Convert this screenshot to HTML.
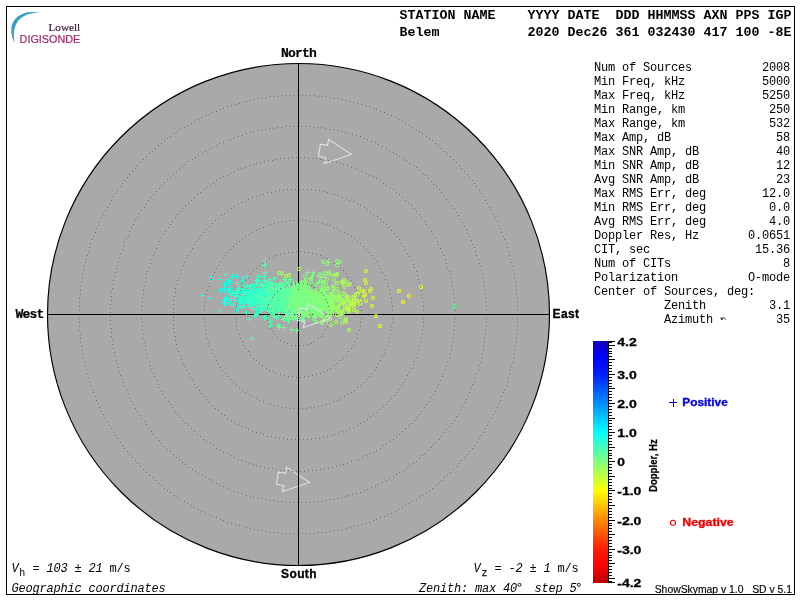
<!DOCTYPE html>
<html><head><meta charset="utf-8"><title>Skymap</title>
<style>
html,body{margin:0;padding:0;background:#fff;}
svg{display:block;will-change:transform}
text{white-space:pre}
.m{font-family:"Liberation Mono",monospace;font-size:12px;letter-spacing:-0.2px;fill:#000}
.mi{font-family:"Liberation Mono",monospace;font-size:12px;letter-spacing:-0.2px;fill:#000;font-style:italic}
.hb{font-family:"Liberation Mono",monospace;font-size:13.3px;font-weight:bold;letter-spacing:0.02px;fill:#000}
.nb{font-family:"Liberation Mono",monospace;font-size:13px;font-weight:bold;letter-spacing:-0.8px;fill:#000;stroke:#000;stroke-width:0.2px}
.sb{font-family:"Liberation Sans",sans-serif;font-size:12px;font-weight:bold;fill:#000;stroke:#000;stroke-width:0.3px;letter-spacing:0.4px}
.bl{font-family:"Liberation Sans",sans-serif;font-size:11.5px;font-weight:bold;fill:#000;stroke:#000;stroke-width:0.3px}
.s{font-family:"Liberation Sans",sans-serif;font-size:10.5px;fill:#000}
</style></head>
<body>
<svg width="800" height="600" viewBox="0 0 800 600">
<defs>
<linearGradient id="jet" x1="0" y1="0" x2="0" y2="1">
<stop offset="0" stop-color="#1800b8"/><stop offset="0.064" stop-color="#0000ff"/><stop offset="0.136" stop-color="#001eff"/>
<stop offset="0.256" stop-color="#008cff"/><stop offset="0.377" stop-color="#00ffff"/><stop offset="0.497" stop-color="#80ff80"/>
<stop offset="0.618" stop-color="#ffff00"/><stop offset="0.738" stop-color="#ff8c00"/><stop offset="0.858" stop-color="#ff1e00"/>
<stop offset="0.93" stop-color="#ff0000"/><stop offset="1" stop-color="#b80000"/>
</linearGradient>
</defs>
<rect x="0" y="0" width="800" height="600" fill="#fff"/>
<rect x="6.5" y="6.5" width="788" height="588" fill="none" stroke="#000" stroke-width="1" shape-rendering="crispEdges"/>

<!-- logo -->
<path d="M38.8 13.1 C26 9 12 16.5 11.3 28.5 C11 34.5 12.5 39.5 14.8 42.8 C13.6 37.5 13.2 31.5 15.5 25.5 C19 17 28 12 38.8 13.1Z" fill="#3a9bc8"/>
<text x="48.5" y="30.6" style="font-family:'Liberation Serif',serif;font-size:11.2px;fill:#3c1a30;stroke:#3c1a30;stroke-width:0.2px">Lowell</text>
<text x="19.6" y="43" style="font-family:'Liberation Sans',sans-serif;font-size:10.8px;fill:#9a2a62;stroke:#9a2a62;stroke-width:0.2px">DIGISONDE</text>

<!-- header -->
<text x="399.5" y="19" class="hb">STATION NAME    YYYY DATE  DDD HHMMSS AXN PPS IGP</text>
<text x="399.5" y="36" class="hb">Belem           2020 Dec26 361 032430 417 100 -8E</text>

<!-- polar plot -->
<circle cx="298.5" cy="314.5" r="251.0" fill="#a9a9a9" stroke="#000" stroke-width="1.15"/>
<polygon points="351.5,154.4 328.6,139.4 327.5,145.4 320.4,144.2 318.5,156.2 325.6,157.8 324.5,163.4" fill="none" stroke="#e4e4e4" stroke-width="1.1" stroke-linejoin="miter"/>
<polygon points="309.5,482.4 286.6,467.4 285.5,473.4 278.4,472.2 276.5,484.2 283.6,485.8 282.5,491.4" fill="none" stroke="#e4e4e4" stroke-width="1.1" stroke-linejoin="miter"/>
<path d="M298.5 63V566M47 314.5H550" stroke="#000" stroke-width="1" fill="none" shape-rendering="crispEdges"/>
<path d="M310.5 301.0a1.5 1.5 0 1 0 3 0a1.5 1.5 0 1 0-3 0M318.5 307.0a1.5 1.5 0 1 0 3 0a1.5 1.5 0 1 0-3 0M300.5 300.0a1.5 1.5 0 1 0 3 0a1.5 1.5 0 1 0-3 0M301.5 301.0a1.5 1.5 0 1 0 3 0a1.5 1.5 0 1 0-3 0M315.5 305.0a1.5 1.5 0 1 0 3 0a1.5 1.5 0 1 0-3 0M315.5 303.0a1.5 1.5 0 1 0 3 0a1.5 1.5 0 1 0-3 0M314.5 294.0a1.5 1.5 0 1 0 3 0a1.5 1.5 0 1 0-3 0M327.5 294.0a1.5 1.5 0 1 0 3 0a1.5 1.5 0 1 0-3 0M309.5 299.0a1.5 1.5 0 1 0 3 0a1.5 1.5 0 1 0-3 0M326.5 298.0a1.5 1.5 0 1 0 3 0a1.5 1.5 0 1 0-3 0M308.5 291.0a1.5 1.5 0 1 0 3 0a1.5 1.5 0 1 0-3 0M326.5 305.0a1.5 1.5 0 1 0 3 0a1.5 1.5 0 1 0-3 0M322.5 307.0a1.5 1.5 0 1 0 3 0a1.5 1.5 0 1 0-3 0M318.5 274.0a1.5 1.5 0 1 0 3 0a1.5 1.5 0 1 0-3 0M320.5 305.0a1.5 1.5 0 1 0 3 0a1.5 1.5 0 1 0-3 0M319.5 316.0a1.5 1.5 0 1 0 3 0a1.5 1.5 0 1 0-3 0M326.5 301.0a1.5 1.5 0 1 0 3 0a1.5 1.5 0 1 0-3 0M317.5 276.0a1.5 1.5 0 1 0 3 0a1.5 1.5 0 1 0-3 0M317.5 308.0a1.5 1.5 0 1 0 3 0a1.5 1.5 0 1 0-3 0M331.5 303.0a1.5 1.5 0 1 0 3 0a1.5 1.5 0 1 0-3 0M326.5 297.0a1.5 1.5 0 1 0 3 0a1.5 1.5 0 1 0-3 0M315.5 301.0a1.5 1.5 0 1 0 3 0a1.5 1.5 0 1 0-3 0M304.5 298.0a1.5 1.5 0 1 0 3 0a1.5 1.5 0 1 0-3 0M319.5 314.0a1.5 1.5 0 1 0 3 0a1.5 1.5 0 1 0-3 0M325.5 300.0a1.5 1.5 0 1 0 3 0a1.5 1.5 0 1 0-3 0M303.5 298.0a1.5 1.5 0 1 0 3 0a1.5 1.5 0 1 0-3 0M319.5 292.0a1.5 1.5 0 1 0 3 0a1.5 1.5 0 1 0-3 0M322.5 282.0a1.5 1.5 0 1 0 3 0a1.5 1.5 0 1 0-3 0M304.5 295.0a1.5 1.5 0 1 0 3 0a1.5 1.5 0 1 0-3 0M322.5 296.0a1.5 1.5 0 1 0 3 0a1.5 1.5 0 1 0-3 0M319.5 309.0a1.5 1.5 0 1 0 3 0a1.5 1.5 0 1 0-3 0M321.5 302.0a1.5 1.5 0 1 0 3 0a1.5 1.5 0 1 0-3 0M319.5 291.0a1.5 1.5 0 1 0 3 0a1.5 1.5 0 1 0-3 0M321.5 309.0a1.5 1.5 0 1 0 3 0a1.5 1.5 0 1 0-3 0M305.5 291.0a1.5 1.5 0 1 0 3 0a1.5 1.5 0 1 0-3 0M298.5 294.0a1.5 1.5 0 1 0 3 0a1.5 1.5 0 1 0-3 0M311.5 297.0a1.5 1.5 0 1 0 3 0a1.5 1.5 0 1 0-3 0M317.5 309.0a1.5 1.5 0 1 0 3 0a1.5 1.5 0 1 0-3 0M318.5 303.0a1.5 1.5 0 1 0 3 0a1.5 1.5 0 1 0-3 0M322.5 302.0a1.5 1.5 0 1 0 3 0a1.5 1.5 0 1 0-3 0M310.5 308.0a1.5 1.5 0 1 0 3 0a1.5 1.5 0 1 0-3 0M313.5 301.0a1.5 1.5 0 1 0 3 0a1.5 1.5 0 1 0-3 0M303.5 288.0a1.5 1.5 0 1 0 3 0a1.5 1.5 0 1 0-3 0M318.5 307.0a1.5 1.5 0 1 0 3 0a1.5 1.5 0 1 0-3 0M320.5 290.0a1.5 1.5 0 1 0 3 0a1.5 1.5 0 1 0-3 0M327.5 294.0a1.5 1.5 0 1 0 3 0a1.5 1.5 0 1 0-3 0M329.5 297.0a1.5 1.5 0 1 0 3 0a1.5 1.5 0 1 0-3 0M327.5 306.0a1.5 1.5 0 1 0 3 0a1.5 1.5 0 1 0-3 0M311.5 299.0a1.5 1.5 0 1 0 3 0a1.5 1.5 0 1 0-3 0M323.5 299.0a1.5 1.5 0 1 0 3 0a1.5 1.5 0 1 0-3 0M329.5 294.0a1.5 1.5 0 1 0 3 0a1.5 1.5 0 1 0-3 0M330.5 299.0a1.5 1.5 0 1 0 3 0a1.5 1.5 0 1 0-3 0M315.5 312.0a1.5 1.5 0 1 0 3 0a1.5 1.5 0 1 0-3 0M311.5 301.0a1.5 1.5 0 1 0 3 0a1.5 1.5 0 1 0-3 0M308.5 295.0a1.5 1.5 0 1 0 3 0a1.5 1.5 0 1 0-3 0M317.5 292.0a1.5 1.5 0 1 0 3 0a1.5 1.5 0 1 0-3 0M321.5 300.0a1.5 1.5 0 1 0 3 0a1.5 1.5 0 1 0-3 0M319.5 297.0a1.5 1.5 0 1 0 3 0a1.5 1.5 0 1 0-3 0M319.5 312.0a1.5 1.5 0 1 0 3 0a1.5 1.5 0 1 0-3 0M314.5 300.0a1.5 1.5 0 1 0 3 0a1.5 1.5 0 1 0-3 0M320.5 323.0a1.5 1.5 0 1 0 3 0a1.5 1.5 0 1 0-3 0M308.5 298.0a1.5 1.5 0 1 0 3 0a1.5 1.5 0 1 0-3 0M318.5 281.0a1.5 1.5 0 1 0 3 0a1.5 1.5 0 1 0-3 0M313.5 308.0a1.5 1.5 0 1 0 3 0a1.5 1.5 0 1 0-3 0M313.5 308.0a1.5 1.5 0 1 0 3 0a1.5 1.5 0 1 0-3 0M321.5 302.0a1.5 1.5 0 1 0 3 0a1.5 1.5 0 1 0-3 0M305.5 305.0a1.5 1.5 0 1 0 3 0a1.5 1.5 0 1 0-3 0M331.5 305.0a1.5 1.5 0 1 0 3 0a1.5 1.5 0 1 0-3 0M321.5 289.0a1.5 1.5 0 1 0 3 0a1.5 1.5 0 1 0-3 0M305.5 303.0a1.5 1.5 0 1 0 3 0a1.5 1.5 0 1 0-3 0M316.5 315.0a1.5 1.5 0 1 0 3 0a1.5 1.5 0 1 0-3 0M315.5 309.0a1.5 1.5 0 1 0 3 0a1.5 1.5 0 1 0-3 0M320.5 276.0a1.5 1.5 0 1 0 3 0a1.5 1.5 0 1 0-3 0M312.5 319.0a1.5 1.5 0 1 0 3 0a1.5 1.5 0 1 0-3 0" stroke="#86ff79" stroke-width="1.1" fill="none"/>
<path d="M283 298.5h5M285.5 296v5M293 292.5h5M295.5 290v5M288 292.5h5M290.5 290v5M285 306.5h5M287.5 304v5M285 298.5h5M287.5 296v5M289 296.5h5M291.5 294v5M292 299.5h5M294.5 297v5M283 290.5h5M285.5 288v5M288 298.5h5M290.5 296v5M287 299.5h5M289.5 297v5M286 294.5h5M288.5 292v5M285 285.5h5M287.5 283v5M287 308.5h5M289.5 306v5M289 288.5h5M291.5 286v5M283 291.5h5M285.5 289v5M283 298.5h5M285.5 296v5M287 316.5h5M289.5 314v5M287 308.5h5M289.5 306v5M289 296.5h5M291.5 294v5M289 316.5h5M291.5 314v5M295 297.5h5M297.5 295v5M280 299.5h5M282.5 297v5M288 298.5h5M290.5 296v5M286 302.5h5M288.5 300v5M288 294.5h5M290.5 292v5M292 304.5h5M294.5 302v5M290 310.5h5M292.5 308v5M289 312.5h5M291.5 310v5M290 296.5h5M292.5 294v5M282 286.5h5M284.5 284v5M293 301.5h5M295.5 299v5M284 297.5h5M286.5 295v5M286 305.5h5M288.5 303v5M282 297.5h5M284.5 295v5M274 305.5h5M276.5 303v5M292 317.5h5M294.5 315v5M286 300.5h5M288.5 298v5M293 291.5h5M295.5 289v5M283 295.5h5M285.5 293v5M293 294.5h5M295.5 292v5M283 305.5h5M285.5 303v5M287 289.5h5M289.5 287v5M282 295.5h5M284.5 293v5M296 300.5h5M298.5 298v5M290 291.5h5M292.5 289v5M288 299.5h5M290.5 297v5M286 304.5h5M288.5 302v5M290 303.5h5M292.5 301v5M288 290.5h5M290.5 288v5M300 319.5h5M302.5 317v5M288 301.5h5M290.5 299v5M285 297.5h5M287.5 295v5M274 295.5h5M276.5 293v5M288 307.5h5M290.5 305v5M275 294.5h5M277.5 292v5M284 303.5h5M286.5 301v5M285 303.5h5M287.5 301v5M290 298.5h5M292.5 296v5M283 310.5h5M285.5 308v5M291 311.5h5M293.5 309v5M281 302.5h5M283.5 300v5M281 296.5h5M283.5 294v5M289 305.5h5M291.5 303v5M283 296.5h5M285.5 294v5M294 304.5h5M296.5 302v5M276 306.5h5M278.5 304v5M291 293.5h5M293.5 291v5M285 301.5h5M287.5 299v5M283 311.5h5M285.5 309v5M290 309.5h5M292.5 307v5M284 299.5h5M286.5 297v5M280 294.5h5M282.5 292v5M292 296.5h5M294.5 294v5M290 298.5h5M292.5 296v5M295 310.5h5M297.5 308v5M286 321.5h5M288.5 319v5" stroke="#67ff98" stroke-width="1" fill="none" shape-rendering="crispEdges"/>
<path d="M284 309.5h5M286.5 307v5M283 303.5h5M285.5 301v5M285 314.5h5M287.5 312v5M280 301.5h5M282.5 299v5M283 294.5h5M285.5 292v5M284 291.5h5M286.5 289v5M278 285.5h5M280.5 283v5M283 294.5h5M285.5 292v5M288 313.5h5M290.5 311v5M280 295.5h5M282.5 293v5M276 300.5h5M278.5 298v5M289 310.5h5M291.5 308v5M287 301.5h5M289.5 299v5M284 319.5h5M286.5 317v5M283 292.5h5M285.5 290v5M282 301.5h5M284.5 299v5M273 289.5h5M275.5 287v5M281 319.5h5M283.5 317v5M285 292.5h5M287.5 290v5M285 288.5h5M287.5 286v5M284 302.5h5M286.5 300v5M280 300.5h5M282.5 298v5M273 299.5h5M275.5 297v5M284 305.5h5M286.5 303v5M284 298.5h5M286.5 296v5M284 301.5h5M286.5 299v5M282 294.5h5M284.5 292v5M270 304.5h5M272.5 302v5M278 306.5h5M280.5 304v5M286 282.5h5M288.5 280v5M278 309.5h5M280.5 307v5M274 303.5h5M276.5 301v5M269 303.5h5M271.5 301v5M271 306.5h5M273.5 304v5M277 311.5h5M279.5 309v5M288 301.5h5M290.5 299v5M282 306.5h5M284.5 304v5M283 305.5h5M285.5 303v5M297 302.5h5M299.5 300v5M279 294.5h5M281.5 292v5M276 294.5h5M278.5 292v5M282 299.5h5M284.5 297v5M276 303.5h5M278.5 301v5M291 319.5h5M293.5 317v5M286 305.5h5M288.5 303v5M281 299.5h5M283.5 297v5M278 284.5h5M280.5 282v5M285 302.5h5M287.5 300v5M263 303.5h5M265.5 301v5M286 303.5h5M288.5 301v5M282 301.5h5M284.5 299v5M283 307.5h5M285.5 305v5M276 287.5h5M278.5 285v5M274 295.5h5M276.5 293v5M283 307.5h5M285.5 305v5M285 295.5h5M287.5 293v5M278 295.5h5M280.5 293v5M277 293.5h5M279.5 291v5M275 310.5h5M277.5 308v5M275 304.5h5M277.5 302v5M272 303.5h5M274.5 301v5M282 294.5h5M284.5 292v5M283 299.5h5M285.5 297v5M285 305.5h5M287.5 303v5M273 304.5h5M275.5 302v5M275 288.5h5M277.5 286v5M279 299.5h5M281.5 297v5M290 295.5h5M292.5 293v5M281 302.5h5M283.5 300v5M279 295.5h5M281.5 293v5M279 294.5h5M281.5 292v5M281 297.5h5M283.5 295v5M279 299.5h5M281.5 297v5M281 297.5h5M283.5 295v5M276 325.5h5M278.5 323v5" stroke="#5bffa4" stroke-width="1" fill="none" shape-rendering="crispEdges"/>
<path d="M280 295.5h5M282.5 293v5M272 293.5h5M274.5 291v5M262 303.5h5M264.5 301v5M262 286.5h5M264.5 284v5M262 294.5h5M264.5 292v5M268 290.5h5M270.5 288v5M277 294.5h5M279.5 292v5M272 303.5h5M274.5 301v5M267 294.5h5M269.5 292v5M267 301.5h5M269.5 299v5M276 303.5h5M278.5 301v5M246 295.5h5M248.5 293v5M268 296.5h5M270.5 294v5M267 310.5h5M269.5 308v5M250 300.5h5M252.5 298v5M242 287.5h5M244.5 285v5M271 307.5h5M273.5 305v5M269 299.5h5M271.5 297v5M271 301.5h5M273.5 299v5M268 290.5h5M270.5 288v5M265 301.5h5M267.5 299v5M246 302.5h5M248.5 300v5M255 305.5h5M257.5 303v5M260 298.5h5M262.5 296v5M270 306.5h5M272.5 304v5M274 294.5h5M276.5 292v5M274 298.5h5M276.5 296v5M273 284.5h5M275.5 282v5M279 307.5h5M281.5 305v5M268 283.5h5M270.5 281v5M266 298.5h5M268.5 296v5M262 276.5h5M264.5 274v5M270 296.5h5M272.5 294v5M265 302.5h5M267.5 300v5M268 311.5h5M270.5 309v5M256 299.5h5M258.5 297v5M270 309.5h5M272.5 307v5M273 299.5h5M275.5 297v5M250 304.5h5M252.5 302v5M264 302.5h5M266.5 300v5M247 306.5h5M249.5 304v5M249 296.5h5M251.5 294v5M268 303.5h5M270.5 301v5M261 302.5h5M263.5 300v5M266 284.5h5M268.5 282v5M260 306.5h5M262.5 304v5M266 289.5h5M268.5 287v5M278 289.5h5M280.5 287v5M263 307.5h5M265.5 305v5M269 286.5h5M271.5 284v5M266 302.5h5M268.5 300v5M273 293.5h5M275.5 291v5M278 301.5h5M280.5 299v5M260 286.5h5M262.5 284v5M268 298.5h5M270.5 296v5M274 305.5h5M276.5 303v5M273 295.5h5M275.5 293v5M276 303.5h5M278.5 301v5M274 302.5h5M276.5 300v5M272 305.5h5M274.5 303v5M248 297.5h5M250.5 295v5M273 299.5h5M275.5 297v5M276 300.5h5M278.5 298v5M274 292.5h5M276.5 290v5M257 303.5h5M259.5 301v5M265 298.5h5M267.5 296v5M263 300.5h5M265.5 298v5M272 278.5h5M274.5 276v5M269 302.5h5M271.5 300v5M268 302.5h5M270.5 300v5M263 272.5h5M265.5 270v5" stroke="#49ffb6" stroke-width="1" fill="none" shape-rendering="crispEdges"/>
<path d="M240 280.5h5M242.5 278v5M222 303.5h5M224.5 301v5M222 300.5h5M224.5 298v5M229 299.5h5M231.5 297v5M227 288.5h5M229.5 286v5M228 282.5h5M230.5 280v5M224 299.5h5M226.5 297v5M241 302.5h5M243.5 300v5M226 280.5h5M228.5 278v5M223 304.5h5M225.5 302v5M230 276.5h5M232.5 274v5M234 276.5h5M236.5 274v5" stroke="#1effe1" stroke-width="1" fill="none" shape-rendering="crispEdges"/>
<path d="M258 302.5h5M260.5 300v5M255 300.5h5M257.5 298v5M266 291.5h5M268.5 289v5M262 300.5h5M264.5 298v5M271 296.5h5M273.5 294v5M255 290.5h5M257.5 288v5M275 304.5h5M277.5 302v5M270 300.5h5M272.5 298v5M267 290.5h5M269.5 288v5M262 285.5h5M264.5 283v5M264 317.5h5M266.5 315v5M270 296.5h5M272.5 294v5M260 309.5h5M262.5 307v5M264 303.5h5M266.5 301v5M259 306.5h5M261.5 304v5M249 293.5h5M251.5 291v5M263 303.5h5M265.5 301v5M273 297.5h5M275.5 295v5M260 300.5h5M262.5 298v5M266 293.5h5M268.5 291v5M267 307.5h5M269.5 305v5M262 280.5h5M264.5 278v5M253 299.5h5M255.5 297v5M268 301.5h5M270.5 299v5M259 283.5h5M261.5 281v5M255 303.5h5M257.5 301v5M260 293.5h5M262.5 291v5M261 285.5h5M263.5 283v5M266 303.5h5M268.5 301v5M257 294.5h5M259.5 292v5M269 298.5h5M271.5 296v5M263 306.5h5M265.5 304v5M254 284.5h5M256.5 282v5M252 288.5h5M254.5 286v5M272 293.5h5M274.5 291v5M262 298.5h5M264.5 296v5M249 292.5h5M251.5 290v5M265 307.5h5M267.5 305v5M260 300.5h5M262.5 298v5M262 297.5h5M264.5 295v5M259 303.5h5M261.5 301v5M259 307.5h5M261.5 305v5M252 300.5h5M254.5 298v5M273 293.5h5M275.5 291v5M271 300.5h5M273.5 298v5M269 304.5h5M271.5 302v5M275 302.5h5M277.5 300v5M255 302.5h5M257.5 300v5M263 290.5h5M265.5 288v5M271 316.5h5M273.5 314v5M271 301.5h5M273.5 299v5M245 292.5h5M247.5 290v5M271 299.5h5M273.5 297v5M260 294.5h5M262.5 292v5M260 292.5h5M262.5 290v5M257 298.5h5M259.5 296v5M252 290.5h5M254.5 288v5M272 300.5h5M274.5 298v5M257 285.5h5M259.5 283v5M268 290.5h5M270.5 288v5M255 299.5h5M257.5 297v5M267 279.5h5M269.5 277v5M261 298.5h5M263.5 296v5M258 296.5h5M260.5 294v5M268 294.5h5M270.5 292v5M269 307.5h5M271.5 305v5M263 260.5h5M265.5 258v5" stroke="#43ffbc" stroke-width="1" fill="none" shape-rendering="crispEdges"/>
<path d="M254 305.5h5M256.5 303v5M267 289.5h5M269.5 287v5M260 295.5h5M262.5 293v5M246 293.5h5M248.5 291v5M254 293.5h5M256.5 291v5M256 276.5h5M258.5 274v5M253 297.5h5M255.5 295v5M251 300.5h5M253.5 298v5M254 280.5h5M256.5 278v5M254 298.5h5M256.5 296v5M244 298.5h5M246.5 296v5M267 295.5h5M269.5 293v5M263 295.5h5M265.5 293v5M240 299.5h5M242.5 297v5M255 281.5h5M257.5 279v5M261 288.5h5M263.5 286v5M258 296.5h5M260.5 294v5M252 298.5h5M254.5 296v5M267 302.5h5M269.5 300v5M255 300.5h5M257.5 298v5M263 297.5h5M265.5 295v5M244 312.5h5M246.5 310v5M257 294.5h5M259.5 292v5M252 315.5h5M254.5 313v5M263 308.5h5M265.5 306v5M253 294.5h5M255.5 292v5M254 295.5h5M256.5 293v5M247 303.5h5M249.5 301v5M255 295.5h5M257.5 293v5M248 302.5h5M250.5 300v5M272 296.5h5M274.5 294v5M256 309.5h5M258.5 307v5M266 299.5h5M268.5 297v5M248 302.5h5M250.5 300v5M245 299.5h5M247.5 297v5M262 291.5h5M264.5 289v5M262 317.5h5M264.5 315v5M260 297.5h5M262.5 295v5M256 299.5h5M258.5 297v5M258 300.5h5M260.5 298v5M263 305.5h5M265.5 303v5M262 298.5h5M264.5 296v5M256 298.5h5M258.5 296v5M258 308.5h5M260.5 306v5M256 280.5h5M258.5 278v5M255 290.5h5M257.5 288v5M268 288.5h5M270.5 286v5M256 289.5h5M258.5 287v5M251 308.5h5M253.5 306v5M252 292.5h5M254.5 290v5M260 297.5h5M262.5 295v5M255 291.5h5M257.5 289v5M262 297.5h5M264.5 295v5M259 283.5h5M261.5 281v5M252 291.5h5M254.5 289v5M249 338.5h5M251.5 336v5" stroke="#3dffc2" stroke-width="1" fill="none" shape-rendering="crispEdges"/>
<path d="M363.5 295.0a1.5 1.5 0 1 0 3 0a1.5 1.5 0 1 0-3 0M362.5 291.0a1.5 1.5 0 1 0 3 0a1.5 1.5 0 1 0-3 0M369.5 289.0a1.5 1.5 0 1 0 3 0a1.5 1.5 0 1 0-3 0M371.5 298.0a1.5 1.5 0 1 0 3 0a1.5 1.5 0 1 0-3 0M370.5 306.0a1.5 1.5 0 1 0 3 0a1.5 1.5 0 1 0-3 0" stroke="#e1ff1e" stroke-width="1.1" fill="none"/>
<path d="M358.5 301.0a1.5 1.5 0 1 0 3 0a1.5 1.5 0 1 0-3 0M364.5 301.0a1.5 1.5 0 1 0 3 0a1.5 1.5 0 1 0-3 0M364.5 271.0a1.5 1.5 0 1 0 3 0a1.5 1.5 0 1 0-3 0M363.5 280.0a1.5 1.5 0 1 0 3 0a1.5 1.5 0 1 0-3 0M364.5 283.0a1.5 1.5 0 1 0 3 0a1.5 1.5 0 1 0-3 0M362.5 296.0a1.5 1.5 0 1 0 3 0a1.5 1.5 0 1 0-3 0" stroke="#d5ff2a" stroke-width="1.1" fill="none"/>
<path d="M277 308.5h5M279.5 306v5M281 289.5h5M283.5 287v5M280 297.5h5M282.5 295v5M282 299.5h5M284.5 297v5M283 305.5h5M285.5 303v5M285 295.5h5M287.5 293v5M284 297.5h5M286.5 295v5M276 295.5h5M278.5 293v5M283 293.5h5M285.5 291v5M285 299.5h5M287.5 297v5M296 299.5h5M298.5 297v5M276 305.5h5M278.5 303v5M280 303.5h5M282.5 301v5M280 289.5h5M282.5 287v5M284 302.5h5M286.5 300v5M285 297.5h5M287.5 295v5M289 296.5h5M291.5 294v5M292 301.5h5M294.5 299v5M280 290.5h5M282.5 288v5M284 294.5h5M286.5 292v5M279 293.5h5M281.5 291v5M276 285.5h5M278.5 283v5M286 304.5h5M288.5 302v5M277 300.5h5M279.5 298v5M298 301.5h5M300.5 299v5M278 303.5h5M280.5 301v5M287 301.5h5M289.5 299v5M288 299.5h5M290.5 297v5M286 302.5h5M288.5 300v5M278 304.5h5M280.5 302v5M296 302.5h5M298.5 300v5M274 308.5h5M276.5 306v5M285 305.5h5M287.5 303v5M285 300.5h5M287.5 298v5M288 305.5h5M290.5 303v5M281 304.5h5M283.5 302v5M284 294.5h5M286.5 292v5M283 281.5h5M285.5 279v5M279 291.5h5M281.5 289v5M286 297.5h5M288.5 295v5M284 298.5h5M286.5 296v5M279 283.5h5M281.5 281v5M277 297.5h5M279.5 295v5M290 288.5h5M292.5 286v5M279 295.5h5M281.5 293v5M289 294.5h5M291.5 292v5M280 303.5h5M282.5 301v5M282 299.5h5M284.5 297v5M293 294.5h5M295.5 292v5M280 299.5h5M282.5 297v5M290 306.5h5M292.5 304v5M287 295.5h5M289.5 293v5M284 307.5h5M286.5 305v5M282 286.5h5M284.5 284v5M285 289.5h5M287.5 287v5M285 307.5h5M287.5 305v5M287 301.5h5M289.5 299v5M285 293.5h5M287.5 291v5M277 300.5h5M279.5 298v5M293 310.5h5M295.5 308v5M278 303.5h5M280.5 301v5M290 312.5h5M292.5 310v5M282 307.5h5M284.5 305v5M291 307.5h5M293.5 305v5M286 296.5h5M288.5 294v5M282 318.5h5M284.5 316v5M284 294.5h5M286.5 292v5M287 286.5h5M289.5 284v5M275 302.5h5M277.5 300v5M276 294.5h5M278.5 292v5M289 295.5h5M291.5 293v5M286 301.5h5M288.5 299v5M452 306.5h5M454.5 304v5M281 327.5h5M283.5 325v5" stroke="#61ff9e" stroke-width="1" fill="none" shape-rendering="crispEdges"/>
<path d="M299 291.5h5M301.5 289v5M293 295.5h5M295.5 293v5M288 299.5h5M290.5 297v5M285 302.5h5M287.5 300v5M294 298.5h5M296.5 296v5M296 299.5h5M298.5 297v5M290 288.5h5M292.5 286v5M290 301.5h5M292.5 299v5M293 303.5h5M295.5 301v5M285 316.5h5M287.5 314v5M294 290.5h5M296.5 288v5M296 298.5h5M298.5 296v5M291 294.5h5M293.5 292v5M287 294.5h5M289.5 292v5M282 279.5h5M284.5 277v5M288 300.5h5M290.5 298v5M292 302.5h5M294.5 300v5M284 310.5h5M286.5 308v5M287 301.5h5M289.5 299v5M300 305.5h5M302.5 303v5M293 311.5h5M295.5 309v5M291 301.5h5M293.5 299v5M277 294.5h5M279.5 292v5M286 293.5h5M288.5 291v5M286 302.5h5M288.5 300v5M283 305.5h5M285.5 303v5M292 293.5h5M294.5 291v5M287 307.5h5M289.5 305v5M294 297.5h5M296.5 295v5M317 295.5h5M319.5 293v5M292 305.5h5M294.5 303v5M284 312.5h5M286.5 310v5M298 300.5h5M300.5 298v5M284 290.5h5M286.5 288v5M290 301.5h5M292.5 299v5M301 295.5h5M303.5 293v5M288 279.5h5M290.5 277v5M301 300.5h5M303.5 298v5M293 292.5h5M295.5 290v5M286 300.5h5M288.5 298v5M293 291.5h5M295.5 289v5M290 302.5h5M292.5 300v5M291 308.5h5M293.5 306v5M284 305.5h5M286.5 303v5M288 303.5h5M290.5 301v5M296 304.5h5M298.5 302v5M288 307.5h5M290.5 305v5M294 298.5h5M296.5 296v5M293 300.5h5M295.5 298v5M284 297.5h5M286.5 295v5M289 296.5h5M291.5 294v5M284 296.5h5M286.5 294v5M283 308.5h5M285.5 306v5M284 303.5h5M286.5 301v5M288 304.5h5M290.5 302v5M287 298.5h5M289.5 296v5M288 297.5h5M290.5 295v5M293 293.5h5M295.5 291v5M294 300.5h5M296.5 298v5M284 291.5h5M286.5 289v5M292 286.5h5M294.5 284v5M286 319.5h5M288.5 317v5M288 298.5h5M290.5 296v5M294 296.5h5M296.5 294v5M282 285.5h5M284.5 283v5M288 292.5h5M290.5 290v5M285 289.5h5M287.5 287v5M291 300.5h5M293.5 298v5M294 283.5h5M296.5 281v5M277 327.5h5M279.5 325v5M289 329.5h5M291.5 327v5" stroke="#6dff92" stroke-width="1" fill="none" shape-rendering="crispEdges"/>
<path d="M356.5 293.0a1.5 1.5 0 1 0 3 0a1.5 1.5 0 1 0-3 0M360.5 291.0a1.5 1.5 0 1 0 3 0a1.5 1.5 0 1 0-3 0" stroke="#ceff31" stroke-width="1.1" fill="none"/>
<path d="M251 299.5h5M253.5 297v5M223 274.5h5M225.5 272v5M244 297.5h5M246.5 295v5M233 301.5h5M235.5 299v5M230 292.5h5M232.5 290v5M236 288.5h5M238.5 286v5M244 294.5h5M246.5 292v5M241 303.5h5M243.5 301v5M235 291.5h5M237.5 289v5M228 303.5h5M230.5 301v5M250 304.5h5M252.5 302v5M236 306.5h5M238.5 304v5M235 290.5h5M237.5 288v5M234 310.5h5M236.5 308v5M245 276.5h5M247.5 274v5" stroke="#2affd5" stroke-width="1" fill="none" shape-rendering="crispEdges"/>
<path d="M301 314.5h5M303.5 312v5M305 303.5h5M307.5 301v5M299 283.5h5M301.5 281v5M297 303.5h5M299.5 301v5M310 275.5h5M312.5 273v5M298 287.5h5M300.5 285v5M309 309.5h5M311.5 307v5M293 305.5h5M295.5 303v5M306 316.5h5M308.5 314v5M294 288.5h5M296.5 286v5M308 301.5h5M310.5 299v5M320 289.5h5M322.5 287v5M310 303.5h5M312.5 301v5M310 307.5h5M312.5 305v5M313 300.5h5M315.5 298v5M309 293.5h5M311.5 291v5M300 303.5h5M302.5 301v5M304 301.5h5M306.5 299v5M300 296.5h5M302.5 294v5M295 292.5h5M297.5 290v5M297 285.5h5M299.5 283v5M311 299.5h5M313.5 297v5M300 306.5h5M302.5 304v5M315 307.5h5M317.5 305v5M325 321.5h5M327.5 319v5M305 306.5h5M307.5 304v5M309 302.5h5M311.5 300v5M307 297.5h5M309.5 295v5M303 301.5h5M305.5 299v5M296 296.5h5M298.5 294v5M316 301.5h5M318.5 299v5M299 308.5h5M301.5 306v5M310 307.5h5M312.5 305v5M299 304.5h5M301.5 302v5M320 304.5h5M322.5 302v5M297 294.5h5M299.5 292v5M301 305.5h5M303.5 303v5M309 301.5h5M311.5 299v5M316 296.5h5M318.5 294v5M299 303.5h5M301.5 301v5M294 296.5h5M296.5 294v5M315 299.5h5M317.5 297v5M303 286.5h5M305.5 284v5M304 297.5h5M306.5 295v5M297 306.5h5M299.5 304v5M312 299.5h5M314.5 297v5M301 306.5h5M303.5 304v5M311 310.5h5M313.5 308v5M305 293.5h5M307.5 291v5M296 299.5h5M298.5 297v5M316 296.5h5M318.5 294v5M307 307.5h5M309.5 305v5M293 288.5h5M295.5 286v5M298 308.5h5M300.5 306v5M319 300.5h5M321.5 298v5M323 277.5h5M325.5 275v5M297 284.5h5M299.5 282v5M298 305.5h5M300.5 303v5M307 298.5h5M309.5 296v5M293 293.5h5M295.5 291v5M294 308.5h5M296.5 306v5M287 302.5h5M289.5 300v5M298 302.5h5M300.5 300v5M311 299.5h5M313.5 297v5M312 299.5h5M314.5 297v5M303 281.5h5M305.5 279v5M312 316.5h5M314.5 314v5M302 314.5h5M304.5 312v5M298 286.5h5M300.5 284v5M301 320.5h5M303.5 318v5M303 292.5h5M305.5 290v5M305 313.5h5M307.5 311v5M301 295.5h5M303.5 293v5M303 284.5h5M305.5 282v5M308 304.5h5M310.5 302v5M308 278.5h5M310.5 276v5M316 302.5h5M318.5 300v5M304 298.5h5M306.5 296v5M305 299.5h5M307.5 297v5M301 299.5h5M303.5 297v5M307 300.5h5M309.5 298v5M316 282.5h5M318.5 280v5M294 307.5h5M296.5 305v5M293 299.5h5M295.5 297v5M300 287.5h5M302.5 285v5M302 303.5h5M304.5 301v5M296 300.5h5M298.5 298v5M306 285.5h5M308.5 283v5M313 315.5h5M315.5 313v5M323 310.5h5M325.5 308v5M305 296.5h5M307.5 294v5M306 303.5h5M308.5 301v5M326 309.5h5M328.5 307v5M303 290.5h5M305.5 288v5M301 296.5h5M303.5 294v5M313 304.5h5M315.5 302v5M304 299.5h5M306.5 297v5M312 306.5h5M314.5 304v5M319 305.5h5M321.5 303v5M299 308.5h5M301.5 306v5M294 304.5h5M296.5 302v5M305 286.5h5M307.5 284v5M294 303.5h5M296.5 301v5" stroke="#80ff80" stroke-width="1" fill="none" shape-rendering="crispEdges"/>
<path d="M228 292.5h5M230.5 290v5M236 293.5h5M238.5 291v5M236 299.5h5M238.5 297v5M248 293.5h5M250.5 291v5M226 299.5h5M228.5 297v5M239 291.5h5M241.5 289v5M237 288.5h5M239.5 286v5M231 305.5h5M233.5 303v5M253 290.5h5M255.5 288v5M239 301.5h5M241.5 299v5M244 291.5h5M246.5 289v5M238 302.5h5M240.5 300v5M241 277.5h5M243.5 275v5" stroke="#24ffdb" stroke-width="1" fill="none" shape-rendering="crispEdges"/>
<path d="M222 288.5h5M224.5 286v5M223 300.5h5M225.5 298v5M217 310.5h5M219.5 308v5M222 283.5h5M224.5 281v5M226 290.5h5M228.5 288v5M224 297.5h5M226.5 295v5" stroke="#18ffe7" stroke-width="1" fill="none" shape-rendering="crispEdges"/>
<path d="M336.5 298.0a1.5 1.5 0 1 0 3 0a1.5 1.5 0 1 0-3 0M338.5 317.0a1.5 1.5 0 1 0 3 0a1.5 1.5 0 1 0-3 0M335.5 283.0a1.5 1.5 0 1 0 3 0a1.5 1.5 0 1 0-3 0M341.5 313.0a1.5 1.5 0 1 0 3 0a1.5 1.5 0 1 0-3 0M341.5 301.0a1.5 1.5 0 1 0 3 0a1.5 1.5 0 1 0-3 0M343.5 301.0a1.5 1.5 0 1 0 3 0a1.5 1.5 0 1 0-3 0M339.5 313.0a1.5 1.5 0 1 0 3 0a1.5 1.5 0 1 0-3 0M329.5 304.0a1.5 1.5 0 1 0 3 0a1.5 1.5 0 1 0-3 0M342.5 287.0a1.5 1.5 0 1 0 3 0a1.5 1.5 0 1 0-3 0M341.5 283.0a1.5 1.5 0 1 0 3 0a1.5 1.5 0 1 0-3 0M333.5 297.0a1.5 1.5 0 1 0 3 0a1.5 1.5 0 1 0-3 0M337.5 306.0a1.5 1.5 0 1 0 3 0a1.5 1.5 0 1 0-3 0M334.5 307.0a1.5 1.5 0 1 0 3 0a1.5 1.5 0 1 0-3 0M326.5 307.0a1.5 1.5 0 1 0 3 0a1.5 1.5 0 1 0-3 0M330.5 295.0a1.5 1.5 0 1 0 3 0a1.5 1.5 0 1 0-3 0M335.5 289.0a1.5 1.5 0 1 0 3 0a1.5 1.5 0 1 0-3 0M340.5 311.0a1.5 1.5 0 1 0 3 0a1.5 1.5 0 1 0-3 0M331.5 292.0a1.5 1.5 0 1 0 3 0a1.5 1.5 0 1 0-3 0M333.5 307.0a1.5 1.5 0 1 0 3 0a1.5 1.5 0 1 0-3 0M329.5 294.0a1.5 1.5 0 1 0 3 0a1.5 1.5 0 1 0-3 0M331.5 286.0a1.5 1.5 0 1 0 3 0a1.5 1.5 0 1 0-3 0" stroke="#9eff61" stroke-width="1.1" fill="none"/>
<path d="M333.5 300.0a1.5 1.5 0 1 0 3 0a1.5 1.5 0 1 0-3 0M340.5 300.0a1.5 1.5 0 1 0 3 0a1.5 1.5 0 1 0-3 0M342.5 293.0a1.5 1.5 0 1 0 3 0a1.5 1.5 0 1 0-3 0M343.5 309.0a1.5 1.5 0 1 0 3 0a1.5 1.5 0 1 0-3 0M338.5 299.0a1.5 1.5 0 1 0 3 0a1.5 1.5 0 1 0-3 0M336.5 308.0a1.5 1.5 0 1 0 3 0a1.5 1.5 0 1 0-3 0M345.5 308.0a1.5 1.5 0 1 0 3 0a1.5 1.5 0 1 0-3 0M334.5 275.0a1.5 1.5 0 1 0 3 0a1.5 1.5 0 1 0-3 0M340.5 323.0a1.5 1.5 0 1 0 3 0a1.5 1.5 0 1 0-3 0M342.5 302.0a1.5 1.5 0 1 0 3 0a1.5 1.5 0 1 0-3 0M327.5 311.0a1.5 1.5 0 1 0 3 0a1.5 1.5 0 1 0-3 0M339.5 314.0a1.5 1.5 0 1 0 3 0a1.5 1.5 0 1 0-3 0M336.5 311.0a1.5 1.5 0 1 0 3 0a1.5 1.5 0 1 0-3 0M339.5 302.0a1.5 1.5 0 1 0 3 0a1.5 1.5 0 1 0-3 0M335.5 297.0a1.5 1.5 0 1 0 3 0a1.5 1.5 0 1 0-3 0M335.5 274.0a1.5 1.5 0 1 0 3 0a1.5 1.5 0 1 0-3 0M335.5 275.0a1.5 1.5 0 1 0 3 0a1.5 1.5 0 1 0-3 0M341.5 282.0a1.5 1.5 0 1 0 3 0a1.5 1.5 0 1 0-3 0" stroke="#a4ff5b" stroke-width="1.1" fill="none"/>
<path d="M309.5 293.0a1.5 1.5 0 1 0 3 0a1.5 1.5 0 1 0-3 0M320.5 314.0a1.5 1.5 0 1 0 3 0a1.5 1.5 0 1 0-3 0M300.5 301.0a1.5 1.5 0 1 0 3 0a1.5 1.5 0 1 0-3 0M306.5 293.0a1.5 1.5 0 1 0 3 0a1.5 1.5 0 1 0-3 0M321.5 304.0a1.5 1.5 0 1 0 3 0a1.5 1.5 0 1 0-3 0M302.5 313.0a1.5 1.5 0 1 0 3 0a1.5 1.5 0 1 0-3 0M327.5 307.0a1.5 1.5 0 1 0 3 0a1.5 1.5 0 1 0-3 0M319.5 297.0a1.5 1.5 0 1 0 3 0a1.5 1.5 0 1 0-3 0M326.5 313.0a1.5 1.5 0 1 0 3 0a1.5 1.5 0 1 0-3 0M322.5 318.0a1.5 1.5 0 1 0 3 0a1.5 1.5 0 1 0-3 0M310.5 308.0a1.5 1.5 0 1 0 3 0a1.5 1.5 0 1 0-3 0M321.5 282.0a1.5 1.5 0 1 0 3 0a1.5 1.5 0 1 0-3 0M328.5 315.0a1.5 1.5 0 1 0 3 0a1.5 1.5 0 1 0-3 0M325.5 297.0a1.5 1.5 0 1 0 3 0a1.5 1.5 0 1 0-3 0M312.5 291.0a1.5 1.5 0 1 0 3 0a1.5 1.5 0 1 0-3 0M317.5 302.0a1.5 1.5 0 1 0 3 0a1.5 1.5 0 1 0-3 0M310.5 307.0a1.5 1.5 0 1 0 3 0a1.5 1.5 0 1 0-3 0M321.5 299.0a1.5 1.5 0 1 0 3 0a1.5 1.5 0 1 0-3 0M321.5 306.0a1.5 1.5 0 1 0 3 0a1.5 1.5 0 1 0-3 0M331.5 302.0a1.5 1.5 0 1 0 3 0a1.5 1.5 0 1 0-3 0M325.5 305.0a1.5 1.5 0 1 0 3 0a1.5 1.5 0 1 0-3 0M319.5 296.0a1.5 1.5 0 1 0 3 0a1.5 1.5 0 1 0-3 0M304.5 293.0a1.5 1.5 0 1 0 3 0a1.5 1.5 0 1 0-3 0M325.5 291.0a1.5 1.5 0 1 0 3 0a1.5 1.5 0 1 0-3 0M316.5 303.0a1.5 1.5 0 1 0 3 0a1.5 1.5 0 1 0-3 0M319.5 315.0a1.5 1.5 0 1 0 3 0a1.5 1.5 0 1 0-3 0M304.5 301.0a1.5 1.5 0 1 0 3 0a1.5 1.5 0 1 0-3 0M302.5 292.0a1.5 1.5 0 1 0 3 0a1.5 1.5 0 1 0-3 0M304.5 297.0a1.5 1.5 0 1 0 3 0a1.5 1.5 0 1 0-3 0M326.5 300.0a1.5 1.5 0 1 0 3 0a1.5 1.5 0 1 0-3 0M310.5 310.0a1.5 1.5 0 1 0 3 0a1.5 1.5 0 1 0-3 0M319.5 287.0a1.5 1.5 0 1 0 3 0a1.5 1.5 0 1 0-3 0M323.5 304.0a1.5 1.5 0 1 0 3 0a1.5 1.5 0 1 0-3 0M332.5 308.0a1.5 1.5 0 1 0 3 0a1.5 1.5 0 1 0-3 0M322.5 302.0a1.5 1.5 0 1 0 3 0a1.5 1.5 0 1 0-3 0M316.5 297.0a1.5 1.5 0 1 0 3 0a1.5 1.5 0 1 0-3 0M320.5 304.0a1.5 1.5 0 1 0 3 0a1.5 1.5 0 1 0-3 0M322.5 294.0a1.5 1.5 0 1 0 3 0a1.5 1.5 0 1 0-3 0M333.5 291.0a1.5 1.5 0 1 0 3 0a1.5 1.5 0 1 0-3 0M316.5 299.0a1.5 1.5 0 1 0 3 0a1.5 1.5 0 1 0-3 0M324.5 284.0a1.5 1.5 0 1 0 3 0a1.5 1.5 0 1 0-3 0M326.5 303.0a1.5 1.5 0 1 0 3 0a1.5 1.5 0 1 0-3 0M330.5 300.0a1.5 1.5 0 1 0 3 0a1.5 1.5 0 1 0-3 0M304.5 279.0a1.5 1.5 0 1 0 3 0a1.5 1.5 0 1 0-3 0M333.5 310.0a1.5 1.5 0 1 0 3 0a1.5 1.5 0 1 0-3 0M305.5 301.0a1.5 1.5 0 1 0 3 0a1.5 1.5 0 1 0-3 0M330.5 306.0a1.5 1.5 0 1 0 3 0a1.5 1.5 0 1 0-3 0M326.5 289.0a1.5 1.5 0 1 0 3 0a1.5 1.5 0 1 0-3 0M317.5 299.0a1.5 1.5 0 1 0 3 0a1.5 1.5 0 1 0-3 0M322.5 320.0a1.5 1.5 0 1 0 3 0a1.5 1.5 0 1 0-3 0M321.5 304.0a1.5 1.5 0 1 0 3 0a1.5 1.5 0 1 0-3 0M320.5 302.0a1.5 1.5 0 1 0 3 0a1.5 1.5 0 1 0-3 0M325.5 306.0a1.5 1.5 0 1 0 3 0a1.5 1.5 0 1 0-3 0M325.5 279.0a1.5 1.5 0 1 0 3 0a1.5 1.5 0 1 0-3 0M326.5 288.0a1.5 1.5 0 1 0 3 0a1.5 1.5 0 1 0-3 0M303.5 283.0a1.5 1.5 0 1 0 3 0a1.5 1.5 0 1 0-3 0M321.5 262.0a1.5 1.5 0 1 0 3 0a1.5 1.5 0 1 0-3 0M325.5 264.0a1.5 1.5 0 1 0 3 0a1.5 1.5 0 1 0-3 0M327.5 261.0a1.5 1.5 0 1 0 3 0a1.5 1.5 0 1 0-3 0M335.5 261.0a1.5 1.5 0 1 0 3 0a1.5 1.5 0 1 0-3 0M338.5 262.0a1.5 1.5 0 1 0 3 0a1.5 1.5 0 1 0-3 0M335.5 265.0a1.5 1.5 0 1 0 3 0a1.5 1.5 0 1 0-3 0M323.5 273.0a1.5 1.5 0 1 0 3 0a1.5 1.5 0 1 0-3 0" stroke="#8cff73" stroke-width="1.1" fill="none"/>
<path d="M357.5 301.0a1.5 1.5 0 1 0 3 0a1.5 1.5 0 1 0-3 0M357.5 288.0a1.5 1.5 0 1 0 3 0a1.5 1.5 0 1 0-3 0M358.5 304.0a1.5 1.5 0 1 0 3 0a1.5 1.5 0 1 0-3 0" stroke="#c8ff37" stroke-width="1.1" fill="none"/>
<path d="M338.5 297.0a1.5 1.5 0 1 0 3 0a1.5 1.5 0 1 0-3 0M341.5 297.0a1.5 1.5 0 1 0 3 0a1.5 1.5 0 1 0-3 0M337.5 296.0a1.5 1.5 0 1 0 3 0a1.5 1.5 0 1 0-3 0M335.5 297.0a1.5 1.5 0 1 0 3 0a1.5 1.5 0 1 0-3 0M330.5 302.0a1.5 1.5 0 1 0 3 0a1.5 1.5 0 1 0-3 0M327.5 317.0a1.5 1.5 0 1 0 3 0a1.5 1.5 0 1 0-3 0M323.5 298.0a1.5 1.5 0 1 0 3 0a1.5 1.5 0 1 0-3 0M326.5 307.0a1.5 1.5 0 1 0 3 0a1.5 1.5 0 1 0-3 0M332.5 300.0a1.5 1.5 0 1 0 3 0a1.5 1.5 0 1 0-3 0M336.5 310.0a1.5 1.5 0 1 0 3 0a1.5 1.5 0 1 0-3 0M328.5 305.0a1.5 1.5 0 1 0 3 0a1.5 1.5 0 1 0-3 0M334.5 296.0a1.5 1.5 0 1 0 3 0a1.5 1.5 0 1 0-3 0M320.5 322.0a1.5 1.5 0 1 0 3 0a1.5 1.5 0 1 0-3 0M331.5 288.0a1.5 1.5 0 1 0 3 0a1.5 1.5 0 1 0-3 0M330.5 309.0a1.5 1.5 0 1 0 3 0a1.5 1.5 0 1 0-3 0M330.5 297.0a1.5 1.5 0 1 0 3 0a1.5 1.5 0 1 0-3 0M336.5 300.0a1.5 1.5 0 1 0 3 0a1.5 1.5 0 1 0-3 0M313.5 298.0a1.5 1.5 0 1 0 3 0a1.5 1.5 0 1 0-3 0M329.5 294.0a1.5 1.5 0 1 0 3 0a1.5 1.5 0 1 0-3 0M340.5 304.0a1.5 1.5 0 1 0 3 0a1.5 1.5 0 1 0-3 0M330.5 275.0a1.5 1.5 0 1 0 3 0a1.5 1.5 0 1 0-3 0" stroke="#98ff67" stroke-width="1.1" fill="none"/>
<path d="M397.5 291.0a1.5 1.5 0 1 0 3 0a1.5 1.5 0 1 0-3 0M407.5 296.0a1.5 1.5 0 1 0 3 0a1.5 1.5 0 1 0-3 0M401.5 302.0a1.5 1.5 0 1 0 3 0a1.5 1.5 0 1 0-3 0M419.5 287.0a1.5 1.5 0 1 0 3 0a1.5 1.5 0 1 0-3 0" stroke="#f9ff06" stroke-width="1.1" fill="none"/>
<path d="M368.5 291.0a1.5 1.5 0 1 0 3 0a1.5 1.5 0 1 0-3 0" stroke="#dbff24" stroke-width="1.1" fill="none"/>
<path d="M345.5 299.0a1.5 1.5 0 1 0 3 0a1.5 1.5 0 1 0-3 0M347.5 300.0a1.5 1.5 0 1 0 3 0a1.5 1.5 0 1 0-3 0M352.5 298.0a1.5 1.5 0 1 0 3 0a1.5 1.5 0 1 0-3 0M347.5 306.0a1.5 1.5 0 1 0 3 0a1.5 1.5 0 1 0-3 0M350.5 301.0a1.5 1.5 0 1 0 3 0a1.5 1.5 0 1 0-3 0M346.5 309.0a1.5 1.5 0 1 0 3 0a1.5 1.5 0 1 0-3 0M351.5 304.0a1.5 1.5 0 1 0 3 0a1.5 1.5 0 1 0-3 0M277.5 273.0a1.5 1.5 0 1 0 3 0a1.5 1.5 0 1 0-3 0M280.5 273.0a1.5 1.5 0 1 0 3 0a1.5 1.5 0 1 0-3 0M284.5 276.0a1.5 1.5 0 1 0 3 0a1.5 1.5 0 1 0-3 0M287.5 275.0a1.5 1.5 0 1 0 3 0a1.5 1.5 0 1 0-3 0M297.5 269.0a1.5 1.5 0 1 0 3 0a1.5 1.5 0 1 0-3 0M347.5 330.0a1.5 1.5 0 1 0 3 0a1.5 1.5 0 1 0-3 0M348.5 284.0a1.5 1.5 0 1 0 3 0a1.5 1.5 0 1 0-3 0" stroke="#b6ff49" stroke-width="1.1" fill="none"/>
<path d="M345.5 296.0a1.5 1.5 0 1 0 3 0a1.5 1.5 0 1 0-3 0M346.5 285.0a1.5 1.5 0 1 0 3 0a1.5 1.5 0 1 0-3 0M349.5 303.0a1.5 1.5 0 1 0 3 0a1.5 1.5 0 1 0-3 0M351.5 297.0a1.5 1.5 0 1 0 3 0a1.5 1.5 0 1 0-3 0M343.5 307.0a1.5 1.5 0 1 0 3 0a1.5 1.5 0 1 0-3 0M345.5 304.0a1.5 1.5 0 1 0 3 0a1.5 1.5 0 1 0-3 0M340.5 311.0a1.5 1.5 0 1 0 3 0a1.5 1.5 0 1 0-3 0M347.5 302.0a1.5 1.5 0 1 0 3 0a1.5 1.5 0 1 0-3 0M346.5 297.0a1.5 1.5 0 1 0 3 0a1.5 1.5 0 1 0-3 0M340.5 282.0a1.5 1.5 0 1 0 3 0a1.5 1.5 0 1 0-3 0M344.5 322.0a1.5 1.5 0 1 0 3 0a1.5 1.5 0 1 0-3 0" stroke="#b0ff4f" stroke-width="1.1" fill="none"/>
<path d="M352.5 301.0a1.5 1.5 0 1 0 3 0a1.5 1.5 0 1 0-3 0M352.5 307.0a1.5 1.5 0 1 0 3 0a1.5 1.5 0 1 0-3 0M354.5 295.0a1.5 1.5 0 1 0 3 0a1.5 1.5 0 1 0-3 0M355.5 312.0a1.5 1.5 0 1 0 3 0a1.5 1.5 0 1 0-3 0M355.5 300.0a1.5 1.5 0 1 0 3 0a1.5 1.5 0 1 0-3 0M352.5 310.0a1.5 1.5 0 1 0 3 0a1.5 1.5 0 1 0-3 0" stroke="#c2ff3d" stroke-width="1.1" fill="none"/>
<path d="M228 288.5h5M230.5 286v5M222 290.5h5M224.5 288v5M224 284.5h5M226.5 282v5M217 279.5h5M219.5 277v5M218 290.5h5M220.5 288v5" stroke="#12ffed" stroke-width="1" fill="none" shape-rendering="crispEdges"/>
<path d="M238 299.5h5M240.5 297v5M250 300.5h5M252.5 298v5M258 290.5h5M260.5 288v5M253 297.5h5M255.5 295v5M237 296.5h5M239.5 294v5M254 298.5h5M256.5 296v5M256 291.5h5M258.5 289v5M266 303.5h5M268.5 301v5M257 307.5h5M259.5 305v5M254 309.5h5M256.5 307v5M226 290.5h5M228.5 288v5M235 283.5h5M237.5 281v5M240 289.5h5M242.5 287v5M233 295.5h5M235.5 293v5M246 297.5h5M248.5 295v5M229 295.5h5M231.5 293v5M240 296.5h5M242.5 294v5M236 292.5h5M238.5 290v5M239 307.5h5M241.5 305v5M249 305.5h5M251.5 303v5M246 296.5h5M248.5 294v5M247 290.5h5M249.5 288v5M248 286.5h5M250.5 284v5M245 285.5h5M247.5 283v5M254 290.5h5M256.5 288v5M237 301.5h5M239.5 299v5M267 309.5h5M269.5 307v5M241 294.5h5M243.5 292v5" stroke="#31ffce" stroke-width="1" fill="none" shape-rendering="crispEdges"/>
<path d="M337.5 304.0a1.5 1.5 0 1 0 3 0a1.5 1.5 0 1 0-3 0M335.5 315.0a1.5 1.5 0 1 0 3 0a1.5 1.5 0 1 0-3 0M347.5 312.0a1.5 1.5 0 1 0 3 0a1.5 1.5 0 1 0-3 0M344.5 282.0a1.5 1.5 0 1 0 3 0a1.5 1.5 0 1 0-3 0M341.5 303.0a1.5 1.5 0 1 0 3 0a1.5 1.5 0 1 0-3 0M344.5 319.0a1.5 1.5 0 1 0 3 0a1.5 1.5 0 1 0-3 0M337.5 293.0a1.5 1.5 0 1 0 3 0a1.5 1.5 0 1 0-3 0M343.5 320.0a1.5 1.5 0 1 0 3 0a1.5 1.5 0 1 0-3 0M334.5 322.0a1.5 1.5 0 1 0 3 0a1.5 1.5 0 1 0-3 0M331.5 305.0a1.5 1.5 0 1 0 3 0a1.5 1.5 0 1 0-3 0M349.5 305.0a1.5 1.5 0 1 0 3 0a1.5 1.5 0 1 0-3 0M342.5 280.0a1.5 1.5 0 1 0 3 0a1.5 1.5 0 1 0-3 0" stroke="#aaff55" stroke-width="1.1" fill="none"/>
<path d="M374.5 316.0a1.5 1.5 0 1 0 3 0a1.5 1.5 0 1 0-3 0" stroke="#e7ff18" stroke-width="1.1" fill="none"/>
<path d="M254 301.5h5M256.5 299v5M247 299.5h5M249.5 297v5M268 291.5h5M270.5 289v5M248 295.5h5M250.5 293v5M248 301.5h5M250.5 299v5M254 291.5h5M256.5 289v5M252 295.5h5M254.5 293v5M254 314.5h5M256.5 312v5M232 293.5h5M234.5 291v5M253 304.5h5M255.5 302v5M242 292.5h5M244.5 290v5M262 293.5h5M264.5 291v5M252 297.5h5M254.5 295v5M245 294.5h5M247.5 292v5M252 291.5h5M254.5 289v5M267 290.5h5M269.5 288v5M250 285.5h5M252.5 283v5M250 286.5h5M252.5 284v5M240 296.5h5M242.5 294v5M247 289.5h5M249.5 287v5M264 293.5h5M266.5 291v5M257 288.5h5M259.5 286v5M255 296.5h5M257.5 294v5M252 302.5h5M254.5 300v5M244 299.5h5M246.5 297v5M256 312.5h5M258.5 310v5M250 296.5h5M252.5 294v5M270 293.5h5M272.5 291v5M247 302.5h5M249.5 300v5M248 301.5h5M250.5 299v5M242 306.5h5M244.5 304v5M261 295.5h5M263.5 293v5M246 302.5h5M248.5 300v5M236 290.5h5M238.5 288v5M233 296.5h5M235.5 294v5M242 285.5h5M244.5 283v5M242 299.5h5M244.5 297v5M249 305.5h5M251.5 303v5M267 309.5h5M269.5 307v5M247 319.5h5M249.5 317v5" stroke="#37ffc8" stroke-width="1" fill="none" shape-rendering="crispEdges"/>
<path d="M378.5 326.0a1.5 1.5 0 1 0 3 0a1.5 1.5 0 1 0-3 0" stroke="#f3ff0c" stroke-width="1.1" fill="none"/>
<path d="M350.5 305.0a1.5 1.5 0 1 0 3 0a1.5 1.5 0 1 0-3 0M347.5 309.0a1.5 1.5 0 1 0 3 0a1.5 1.5 0 1 0-3 0M355.5 294.0a1.5 1.5 0 1 0 3 0a1.5 1.5 0 1 0-3 0M353.5 304.0a1.5 1.5 0 1 0 3 0a1.5 1.5 0 1 0-3 0M346.5 310.0a1.5 1.5 0 1 0 3 0a1.5 1.5 0 1 0-3 0" stroke="#bcff43" stroke-width="1.1" fill="none"/>
<path d="M295 301.5h5M297.5 299v5M298 288.5h5M300.5 286v5M299 294.5h5M301.5 292v5M298 307.5h5M300.5 305v5M293 302.5h5M295.5 300v5M290 292.5h5M292.5 290v5M300 317.5h5M302.5 315v5M290 298.5h5M292.5 296v5M290 300.5h5M292.5 298v5M279 306.5h5M281.5 304v5M288 307.5h5M290.5 305v5M294 316.5h5M296.5 314v5M298 286.5h5M300.5 284v5M292 303.5h5M294.5 301v5M304 303.5h5M306.5 301v5M298 310.5h5M300.5 308v5M291 313.5h5M293.5 311v5M293 312.5h5M295.5 310v5M311 304.5h5M313.5 302v5M294 303.5h5M296.5 301v5M298 298.5h5M300.5 296v5M293 308.5h5M295.5 306v5M293 301.5h5M295.5 299v5M290 295.5h5M292.5 293v5M292 301.5h5M294.5 299v5M290 304.5h5M292.5 302v5M295 305.5h5M297.5 303v5M293 305.5h5M295.5 303v5M289 308.5h5M291.5 306v5M307 302.5h5M309.5 300v5M294 301.5h5M296.5 299v5M299 297.5h5M301.5 295v5M295 305.5h5M297.5 303v5M303 298.5h5M305.5 296v5M291 288.5h5M293.5 286v5M289 304.5h5M291.5 302v5M293 299.5h5M295.5 297v5M296 292.5h5M298.5 290v5M302 301.5h5M304.5 299v5M296 295.5h5M298.5 293v5M285 304.5h5M287.5 302v5M288 299.5h5M290.5 297v5M292 310.5h5M294.5 308v5M298 288.5h5M300.5 286v5M292 298.5h5M294.5 296v5M289 296.5h5M291.5 294v5M302 289.5h5M304.5 287v5M295 318.5h5M297.5 316v5M307 301.5h5M309.5 299v5M299 305.5h5M301.5 303v5M307 305.5h5M309.5 303v5M292 308.5h5M294.5 306v5M296 306.5h5M298.5 304v5M295 320.5h5M297.5 318v5M300 297.5h5M302.5 295v5M305 272.5h5M307.5 270v5M311 272.5h5M313.5 270v5M294 330.5h5M296.5 328v5" stroke="#73ff8c" stroke-width="1" fill="none" shape-rendering="crispEdges"/>
<path d="M316.5 313.0a1.5 1.5 0 1 0 3 0a1.5 1.5 0 1 0-3 0M298.5 291.0a1.5 1.5 0 1 0 3 0a1.5 1.5 0 1 0-3 0M307.5 302.0a1.5 1.5 0 1 0 3 0a1.5 1.5 0 1 0-3 0M303.5 303.0a1.5 1.5 0 1 0 3 0a1.5 1.5 0 1 0-3 0M322.5 305.0a1.5 1.5 0 1 0 3 0a1.5 1.5 0 1 0-3 0M310.5 311.0a1.5 1.5 0 1 0 3 0a1.5 1.5 0 1 0-3 0M315.5 306.0a1.5 1.5 0 1 0 3 0a1.5 1.5 0 1 0-3 0M298.5 287.0a1.5 1.5 0 1 0 3 0a1.5 1.5 0 1 0-3 0M309.5 282.0a1.5 1.5 0 1 0 3 0a1.5 1.5 0 1 0-3 0M309.5 299.0a1.5 1.5 0 1 0 3 0a1.5 1.5 0 1 0-3 0M311.5 314.0a1.5 1.5 0 1 0 3 0a1.5 1.5 0 1 0-3 0M319.5 307.0a1.5 1.5 0 1 0 3 0a1.5 1.5 0 1 0-3 0M288.5 303.0a1.5 1.5 0 1 0 3 0a1.5 1.5 0 1 0-3 0M316.5 306.0a1.5 1.5 0 1 0 3 0a1.5 1.5 0 1 0-3 0M319.5 313.0a1.5 1.5 0 1 0 3 0a1.5 1.5 0 1 0-3 0M291.5 302.0a1.5 1.5 0 1 0 3 0a1.5 1.5 0 1 0-3 0M306.5 301.0a1.5 1.5 0 1 0 3 0a1.5 1.5 0 1 0-3 0M289.5 317.0a1.5 1.5 0 1 0 3 0a1.5 1.5 0 1 0-3 0M331.5 311.0a1.5 1.5 0 1 0 3 0a1.5 1.5 0 1 0-3 0M298.5 297.0a1.5 1.5 0 1 0 3 0a1.5 1.5 0 1 0-3 0M314.5 292.0a1.5 1.5 0 1 0 3 0a1.5 1.5 0 1 0-3 0M316.5 299.0a1.5 1.5 0 1 0 3 0a1.5 1.5 0 1 0-3 0M323.5 302.0a1.5 1.5 0 1 0 3 0a1.5 1.5 0 1 0-3 0M316.5 298.0a1.5 1.5 0 1 0 3 0a1.5 1.5 0 1 0-3 0M314.5 306.0a1.5 1.5 0 1 0 3 0a1.5 1.5 0 1 0-3 0M321.5 306.0a1.5 1.5 0 1 0 3 0a1.5 1.5 0 1 0-3 0M325.5 308.0a1.5 1.5 0 1 0 3 0a1.5 1.5 0 1 0-3 0M314.5 285.0a1.5 1.5 0 1 0 3 0a1.5 1.5 0 1 0-3 0M313.5 301.0a1.5 1.5 0 1 0 3 0a1.5 1.5 0 1 0-3 0M318.5 309.0a1.5 1.5 0 1 0 3 0a1.5 1.5 0 1 0-3 0M309.5 301.0a1.5 1.5 0 1 0 3 0a1.5 1.5 0 1 0-3 0M278.5 292.0a1.5 1.5 0 1 0 3 0a1.5 1.5 0 1 0-3 0M302.5 302.0a1.5 1.5 0 1 0 3 0a1.5 1.5 0 1 0-3 0M317.5 296.0a1.5 1.5 0 1 0 3 0a1.5 1.5 0 1 0-3 0M309.5 305.0a1.5 1.5 0 1 0 3 0a1.5 1.5 0 1 0-3 0M309.5 306.0a1.5 1.5 0 1 0 3 0a1.5 1.5 0 1 0-3 0M317.5 305.0a1.5 1.5 0 1 0 3 0a1.5 1.5 0 1 0-3 0M315.5 307.0a1.5 1.5 0 1 0 3 0a1.5 1.5 0 1 0-3 0M300.5 282.0a1.5 1.5 0 1 0 3 0a1.5 1.5 0 1 0-3 0M307.5 296.0a1.5 1.5 0 1 0 3 0a1.5 1.5 0 1 0-3 0M299.5 299.0a1.5 1.5 0 1 0 3 0a1.5 1.5 0 1 0-3 0M300.5 295.0a1.5 1.5 0 1 0 3 0a1.5 1.5 0 1 0-3 0M301.5 300.0a1.5 1.5 0 1 0 3 0a1.5 1.5 0 1 0-3 0M297.5 299.0a1.5 1.5 0 1 0 3 0a1.5 1.5 0 1 0-3 0M320.5 311.0a1.5 1.5 0 1 0 3 0a1.5 1.5 0 1 0-3 0M303.5 289.0a1.5 1.5 0 1 0 3 0a1.5 1.5 0 1 0-3 0M294.5 299.0a1.5 1.5 0 1 0 3 0a1.5 1.5 0 1 0-3 0M315.5 312.0a1.5 1.5 0 1 0 3 0a1.5 1.5 0 1 0-3 0M306.5 313.0a1.5 1.5 0 1 0 3 0a1.5 1.5 0 1 0-3 0M303.5 276.0a1.5 1.5 0 1 0 3 0a1.5 1.5 0 1 0-3 0M301.5 296.0a1.5 1.5 0 1 0 3 0a1.5 1.5 0 1 0-3 0M310.5 298.0a1.5 1.5 0 1 0 3 0a1.5 1.5 0 1 0-3 0M316.5 307.0a1.5 1.5 0 1 0 3 0a1.5 1.5 0 1 0-3 0M290.5 297.0a1.5 1.5 0 1 0 3 0a1.5 1.5 0 1 0-3 0M292.5 295.0a1.5 1.5 0 1 0 3 0a1.5 1.5 0 1 0-3 0M312.5 309.0a1.5 1.5 0 1 0 3 0a1.5 1.5 0 1 0-3 0M301.5 294.0a1.5 1.5 0 1 0 3 0a1.5 1.5 0 1 0-3 0M323.5 301.0a1.5 1.5 0 1 0 3 0a1.5 1.5 0 1 0-3 0M299.5 292.0a1.5 1.5 0 1 0 3 0a1.5 1.5 0 1 0-3 0M300.5 294.0a1.5 1.5 0 1 0 3 0a1.5 1.5 0 1 0-3 0M310.5 296.0a1.5 1.5 0 1 0 3 0a1.5 1.5 0 1 0-3 0M315.5 314.0a1.5 1.5 0 1 0 3 0a1.5 1.5 0 1 0-3 0M314.5 322.0a1.5 1.5 0 1 0 3 0a1.5 1.5 0 1 0-3 0M277.5 309.0a1.5 1.5 0 1 0 3 0a1.5 1.5 0 1 0-3 0M308.5 302.0a1.5 1.5 0 1 0 3 0a1.5 1.5 0 1 0-3 0M326.5 316.0a1.5 1.5 0 1 0 3 0a1.5 1.5 0 1 0-3 0M304.5 309.0a1.5 1.5 0 1 0 3 0a1.5 1.5 0 1 0-3 0M324.5 302.0a1.5 1.5 0 1 0 3 0a1.5 1.5 0 1 0-3 0M299.5 312.0a1.5 1.5 0 1 0 3 0a1.5 1.5 0 1 0-3 0M305.5 312.0a1.5 1.5 0 1 0 3 0a1.5 1.5 0 1 0-3 0M314.5 316.0a1.5 1.5 0 1 0 3 0a1.5 1.5 0 1 0-3 0M318.5 306.0a1.5 1.5 0 1 0 3 0a1.5 1.5 0 1 0-3 0M307.5 305.0a1.5 1.5 0 1 0 3 0a1.5 1.5 0 1 0-3 0M324.5 296.0a1.5 1.5 0 1 0 3 0a1.5 1.5 0 1 0-3 0M309.5 279.0a1.5 1.5 0 1 0 3 0a1.5 1.5 0 1 0-3 0M315.5 294.0a1.5 1.5 0 1 0 3 0a1.5 1.5 0 1 0-3 0M317.5 305.0a1.5 1.5 0 1 0 3 0a1.5 1.5 0 1 0-3 0M317.5 304.0a1.5 1.5 0 1 0 3 0a1.5 1.5 0 1 0-3 0M305.5 310.0a1.5 1.5 0 1 0 3 0a1.5 1.5 0 1 0-3 0M319.5 297.0a1.5 1.5 0 1 0 3 0a1.5 1.5 0 1 0-3 0M315.5 305.0a1.5 1.5 0 1 0 3 0a1.5 1.5 0 1 0-3 0M329.5 304.0a1.5 1.5 0 1 0 3 0a1.5 1.5 0 1 0-3 0M321.5 299.0a1.5 1.5 0 1 0 3 0a1.5 1.5 0 1 0-3 0M288.5 302.0a1.5 1.5 0 1 0 3 0a1.5 1.5 0 1 0-3 0M303.5 282.0a1.5 1.5 0 1 0 3 0a1.5 1.5 0 1 0-3 0M295.5 307.0a1.5 1.5 0 1 0 3 0a1.5 1.5 0 1 0-3 0M290.5 293.0a1.5 1.5 0 1 0 3 0a1.5 1.5 0 1 0-3 0M313.5 309.0a1.5 1.5 0 1 0 3 0a1.5 1.5 0 1 0-3 0M314.5 311.0a1.5 1.5 0 1 0 3 0a1.5 1.5 0 1 0-3 0M324.5 299.0a1.5 1.5 0 1 0 3 0a1.5 1.5 0 1 0-3 0M319.5 281.0a1.5 1.5 0 1 0 3 0a1.5 1.5 0 1 0-3 0M302.5 284.0a1.5 1.5 0 1 0 3 0a1.5 1.5 0 1 0-3 0M312.5 297.0a1.5 1.5 0 1 0 3 0a1.5 1.5 0 1 0-3 0M299.5 286.0a1.5 1.5 0 1 0 3 0a1.5 1.5 0 1 0-3 0M314.5 306.0a1.5 1.5 0 1 0 3 0a1.5 1.5 0 1 0-3 0M298.5 307.0a1.5 1.5 0 1 0 3 0a1.5 1.5 0 1 0-3 0M327.5 297.0a1.5 1.5 0 1 0 3 0a1.5 1.5 0 1 0-3 0M318.5 307.0a1.5 1.5 0 1 0 3 0a1.5 1.5 0 1 0-3 0M312.5 296.0a1.5 1.5 0 1 0 3 0a1.5 1.5 0 1 0-3 0M303.5 307.0a1.5 1.5 0 1 0 3 0a1.5 1.5 0 1 0-3 0M305.5 303.0a1.5 1.5 0 1 0 3 0a1.5 1.5 0 1 0-3 0M293.5 303.0a1.5 1.5 0 1 0 3 0a1.5 1.5 0 1 0-3 0M310.5 296.0a1.5 1.5 0 1 0 3 0a1.5 1.5 0 1 0-3 0M317.5 302.0a1.5 1.5 0 1 0 3 0a1.5 1.5 0 1 0-3 0M324.5 307.0a1.5 1.5 0 1 0 3 0a1.5 1.5 0 1 0-3 0M318.5 297.0a1.5 1.5 0 1 0 3 0a1.5 1.5 0 1 0-3 0M295.5 306.0a1.5 1.5 0 1 0 3 0a1.5 1.5 0 1 0-3 0M324.5 303.0a1.5 1.5 0 1 0 3 0a1.5 1.5 0 1 0-3 0M321.5 286.0a1.5 1.5 0 1 0 3 0a1.5 1.5 0 1 0-3 0M296.5 311.0a1.5 1.5 0 1 0 3 0a1.5 1.5 0 1 0-3 0M317.5 298.0a1.5 1.5 0 1 0 3 0a1.5 1.5 0 1 0-3 0M293.5 288.0a1.5 1.5 0 1 0 3 0a1.5 1.5 0 1 0-3 0M307.5 301.0a1.5 1.5 0 1 0 3 0a1.5 1.5 0 1 0-3 0M295.5 292.0a1.5 1.5 0 1 0 3 0a1.5 1.5 0 1 0-3 0M300.5 286.0a1.5 1.5 0 1 0 3 0a1.5 1.5 0 1 0-3 0M322.5 293.0a1.5 1.5 0 1 0 3 0a1.5 1.5 0 1 0-3 0M310.5 300.0a1.5 1.5 0 1 0 3 0a1.5 1.5 0 1 0-3 0M314.5 304.0a1.5 1.5 0 1 0 3 0a1.5 1.5 0 1 0-3 0M316.5 306.0a1.5 1.5 0 1 0 3 0a1.5 1.5 0 1 0-3 0M305.5 315.0a1.5 1.5 0 1 0 3 0a1.5 1.5 0 1 0-3 0M304.5 297.0a1.5 1.5 0 1 0 3 0a1.5 1.5 0 1 0-3 0M316.5 311.0a1.5 1.5 0 1 0 3 0a1.5 1.5 0 1 0-3 0M309.5 304.0a1.5 1.5 0 1 0 3 0a1.5 1.5 0 1 0-3 0M297.5 302.0a1.5 1.5 0 1 0 3 0a1.5 1.5 0 1 0-3 0M306.5 306.0a1.5 1.5 0 1 0 3 0a1.5 1.5 0 1 0-3 0M307.5 302.0a1.5 1.5 0 1 0 3 0a1.5 1.5 0 1 0-3 0M330.5 304.0a1.5 1.5 0 1 0 3 0a1.5 1.5 0 1 0-3 0M284.5 295.0a1.5 1.5 0 1 0 3 0a1.5 1.5 0 1 0-3 0M308.5 289.0a1.5 1.5 0 1 0 3 0a1.5 1.5 0 1 0-3 0" stroke="#80ff80" stroke-width="1.1" fill="none"/>
<path d="M274 317.5h5M276.5 315v5M276 293.5h5M278.5 291v5M270 283.5h5M272.5 281v5M280 305.5h5M282.5 303v5M272 301.5h5M274.5 299v5M277 304.5h5M279.5 302v5M273 296.5h5M275.5 294v5M283 299.5h5M285.5 297v5M259 310.5h5M261.5 308v5M273 297.5h5M275.5 295v5M266 299.5h5M268.5 297v5M274 300.5h5M276.5 298v5M275 301.5h5M277.5 299v5M264 300.5h5M266.5 298v5M280 311.5h5M282.5 309v5M270 284.5h5M272.5 282v5M278 291.5h5M280.5 289v5M269 299.5h5M271.5 297v5M261 298.5h5M263.5 296v5M275 294.5h5M277.5 292v5M275 298.5h5M277.5 296v5M263 304.5h5M265.5 302v5M265 298.5h5M267.5 296v5M274 293.5h5M276.5 291v5M268 293.5h5M270.5 291v5M261 303.5h5M263.5 301v5M265 281.5h5M267.5 279v5M267 300.5h5M269.5 298v5M267 298.5h5M269.5 296v5M276 300.5h5M278.5 298v5M271 288.5h5M273.5 286v5M274 299.5h5M276.5 297v5M278 305.5h5M280.5 303v5M272 304.5h5M274.5 302v5M264 287.5h5M266.5 285v5M273 301.5h5M275.5 299v5M274 285.5h5M276.5 283v5M266 310.5h5M268.5 308v5M265 291.5h5M267.5 289v5M258 305.5h5M260.5 303v5M280 304.5h5M282.5 302v5M266 303.5h5M268.5 301v5M275 300.5h5M277.5 298v5M274 302.5h5M276.5 300v5M274 292.5h5M276.5 290v5M279 284.5h5M281.5 282v5M271 304.5h5M273.5 302v5M274 310.5h5M276.5 308v5M272 296.5h5M274.5 294v5M265 288.5h5M267.5 286v5M268 285.5h5M270.5 283v5M268 288.5h5M270.5 286v5M259 306.5h5M261.5 304v5M270 314.5h5M272.5 312v5M269 283.5h5M271.5 281v5M257 296.5h5M259.5 294v5M274 285.5h5M276.5 283v5M268 311.5h5M270.5 309v5M273 305.5h5M275.5 303v5M264 300.5h5M266.5 298v5M267 291.5h5M269.5 289v5M280 307.5h5M282.5 305v5M272 299.5h5M274.5 297v5M274 299.5h5M276.5 297v5M268 321.5h5M270.5 319v5M268 325.5h5M270.5 323v5" stroke="#4fffb0" stroke-width="1" fill="none" shape-rendering="crispEdges"/>
<path d="M278 301.5h5M280.5 299v5M281 291.5h5M283.5 289v5M277 289.5h5M279.5 287v5M265 309.5h5M267.5 307v5M274 302.5h5M276.5 300v5M280 305.5h5M282.5 303v5M279 307.5h5M281.5 305v5M265 283.5h5M267.5 281v5M283 291.5h5M285.5 289v5M278 306.5h5M280.5 304v5M276 286.5h5M278.5 284v5M280 305.5h5M282.5 303v5M281 305.5h5M283.5 303v5M270 306.5h5M272.5 304v5M277 293.5h5M279.5 291v5M276 309.5h5M278.5 307v5M286 302.5h5M288.5 300v5M270 291.5h5M272.5 289v5M278 294.5h5M280.5 292v5M276 285.5h5M278.5 283v5M271 298.5h5M273.5 296v5M271 294.5h5M273.5 292v5M288 293.5h5M290.5 291v5M277 298.5h5M279.5 296v5M276 292.5h5M278.5 290v5M275 300.5h5M277.5 298v5M258 297.5h5M260.5 295v5M270 300.5h5M272.5 298v5M265 288.5h5M267.5 286v5M276 302.5h5M278.5 300v5M273 298.5h5M275.5 296v5M276 296.5h5M278.5 294v5M273 297.5h5M275.5 295v5M273 293.5h5M275.5 291v5M266 300.5h5M268.5 298v5M276 295.5h5M278.5 293v5M284 283.5h5M286.5 281v5M277 292.5h5M279.5 290v5M284 293.5h5M286.5 291v5M274 294.5h5M276.5 292v5M276 316.5h5M278.5 314v5M283 301.5h5M285.5 299v5M268 305.5h5M270.5 303v5M275 299.5h5M277.5 297v5M274 304.5h5M276.5 302v5M278 306.5h5M280.5 304v5M275 300.5h5M277.5 298v5M283 294.5h5M285.5 292v5M285 304.5h5M287.5 302v5M271 310.5h5M273.5 308v5M279 289.5h5M281.5 287v5M267 294.5h5M269.5 292v5M272 312.5h5M274.5 310v5M279 273.5h5M281.5 271v5M274 300.5h5M276.5 298v5M279 307.5h5M281.5 305v5M279 296.5h5M281.5 294v5M274 304.5h5M276.5 302v5M272 296.5h5M274.5 294v5M266 289.5h5M268.5 287v5M283 305.5h5M285.5 303v5M279 299.5h5M281.5 297v5M274 299.5h5M276.5 297v5M283 313.5h5M285.5 311v5M276 301.5h5M278.5 299v5M269 287.5h5M271.5 285v5M273 296.5h5M275.5 294v5M261 306.5h5M263.5 304v5M285 297.5h5M287.5 295v5M267 296.5h5M269.5 294v5M262 265.5h5M264.5 263v5" stroke="#55ffaa" stroke-width="1" fill="none" shape-rendering="crispEdges"/>
<path d="M330.5 309.0a1.5 1.5 0 1 0 3 0a1.5 1.5 0 1 0-3 0M332.5 280.0a1.5 1.5 0 1 0 3 0a1.5 1.5 0 1 0-3 0M317.5 300.0a1.5 1.5 0 1 0 3 0a1.5 1.5 0 1 0-3 0M329.5 311.0a1.5 1.5 0 1 0 3 0a1.5 1.5 0 1 0-3 0M323.5 289.0a1.5 1.5 0 1 0 3 0a1.5 1.5 0 1 0-3 0M320.5 309.0a1.5 1.5 0 1 0 3 0a1.5 1.5 0 1 0-3 0M328.5 301.0a1.5 1.5 0 1 0 3 0a1.5 1.5 0 1 0-3 0M330.5 314.0a1.5 1.5 0 1 0 3 0a1.5 1.5 0 1 0-3 0M326.5 274.0a1.5 1.5 0 1 0 3 0a1.5 1.5 0 1 0-3 0M332.5 309.0a1.5 1.5 0 1 0 3 0a1.5 1.5 0 1 0-3 0M313.5 296.0a1.5 1.5 0 1 0 3 0a1.5 1.5 0 1 0-3 0M312.5 305.0a1.5 1.5 0 1 0 3 0a1.5 1.5 0 1 0-3 0M307.5 314.0a1.5 1.5 0 1 0 3 0a1.5 1.5 0 1 0-3 0M328.5 306.0a1.5 1.5 0 1 0 3 0a1.5 1.5 0 1 0-3 0M327.5 312.0a1.5 1.5 0 1 0 3 0a1.5 1.5 0 1 0-3 0M330.5 301.0a1.5 1.5 0 1 0 3 0a1.5 1.5 0 1 0-3 0M327.5 305.0a1.5 1.5 0 1 0 3 0a1.5 1.5 0 1 0-3 0M322.5 297.0a1.5 1.5 0 1 0 3 0a1.5 1.5 0 1 0-3 0M311.5 295.0a1.5 1.5 0 1 0 3 0a1.5 1.5 0 1 0-3 0M315.5 290.0a1.5 1.5 0 1 0 3 0a1.5 1.5 0 1 0-3 0M313.5 298.0a1.5 1.5 0 1 0 3 0a1.5 1.5 0 1 0-3 0M325.5 307.0a1.5 1.5 0 1 0 3 0a1.5 1.5 0 1 0-3 0M328.5 319.0a1.5 1.5 0 1 0 3 0a1.5 1.5 0 1 0-3 0M331.5 307.0a1.5 1.5 0 1 0 3 0a1.5 1.5 0 1 0-3 0M326.5 305.0a1.5 1.5 0 1 0 3 0a1.5 1.5 0 1 0-3 0M335.5 301.0a1.5 1.5 0 1 0 3 0a1.5 1.5 0 1 0-3 0M319.5 296.0a1.5 1.5 0 1 0 3 0a1.5 1.5 0 1 0-3 0M327.5 272.0a1.5 1.5 0 1 0 3 0a1.5 1.5 0 1 0-3 0M329.5 325.0a1.5 1.5 0 1 0 3 0a1.5 1.5 0 1 0-3 0" stroke="#92ff6d" stroke-width="1.1" fill="none"/>
<path d="M300 306.5h5M302.5 304v5M294 298.5h5M296.5 296v5M301 307.5h5M303.5 305v5M297 293.5h5M299.5 291v5M315 304.5h5M317.5 302v5M291 291.5h5M293.5 289v5M302 306.5h5M304.5 304v5M300 311.5h5M302.5 309v5M308 301.5h5M310.5 299v5M301 300.5h5M303.5 298v5M303 294.5h5M305.5 292v5M291 299.5h5M293.5 297v5M300 291.5h5M302.5 289v5M313 302.5h5M315.5 300v5M294 290.5h5M296.5 288v5M305 295.5h5M307.5 293v5M312 297.5h5M314.5 295v5M293 298.5h5M295.5 296v5M303 313.5h5M305.5 311v5M300 293.5h5M302.5 291v5M297 313.5h5M299.5 311v5M295 287.5h5M297.5 285v5M296 296.5h5M298.5 294v5M291 283.5h5M293.5 281v5M303 287.5h5M305.5 285v5M294 312.5h5M296.5 310v5M304 307.5h5M306.5 305v5M312 308.5h5M314.5 306v5M293 301.5h5M295.5 299v5M309 302.5h5M311.5 300v5M298 302.5h5M300.5 300v5M307 299.5h5M309.5 297v5M293 299.5h5M295.5 297v5M297 305.5h5M299.5 303v5M305 304.5h5M307.5 302v5M298 300.5h5M300.5 298v5M303 307.5h5M305.5 305v5M297 304.5h5M299.5 302v5M294 302.5h5M296.5 300v5M303 311.5h5M305.5 309v5M311 313.5h5M313.5 311v5M305 308.5h5M307.5 306v5M298 299.5h5M300.5 297v5M294 300.5h5M296.5 298v5M292 307.5h5M294.5 305v5M298 306.5h5M300.5 304v5M310 309.5h5M312.5 307v5M304 306.5h5M306.5 304v5M296 297.5h5M298.5 295v5M294 301.5h5M296.5 299v5M290 294.5h5M292.5 292v5M306 301.5h5M308.5 299v5M324 306.5h5M326.5 304v5M297 312.5h5M299.5 310v5M293 304.5h5M295.5 302v5M286 306.5h5M288.5 304v5M288 303.5h5M290.5 301v5M304 294.5h5M306.5 292v5M311 304.5h5M313.5 302v5" stroke="#79ff86" stroke-width="1" fill="none" shape-rendering="crispEdges"/>
<path d="M199 295.5h5M201.5 293v5M207 298.5h5M209.5 296v5M209 276.5h5M211.5 274v5M209 279.5h5M211.5 277v5" stroke="#06fff9" stroke-width="1" fill="none" shape-rendering="crispEdges"/>
<path d="M329 318.5h1M328 322.5h1M327 326.5h1M325 329.5h1M323 333.5h1M321 336.5h1M318 338.5h1M314 341.5h1M311 343.5h1M307 344.5h1M303 345.5h1M299 345.5h1M295 345.5h1M291 345.5h1M287 343.5h1M284 342.5h1M280 340.5h1M277 337.5h1M274 334.5h1M272 331.5h1M270 328.5h1M268 324.5h1M267 320.5h1M267 316.5h1M267 312.5h1M267 308.5h1M268 304.5h1M270 300.5h1M272 297.5h1M274 294.5h1M277 291.5h1M280 288.5h1M284 286.5h1M287 285.5h1M291 283.5h1M295 283.5h1M299 283.5h1M303 283.5h1M307 284.5h1M311 285.5h1M314 287.5h1M318 290.5h1M321 292.5h1M323 295.5h1M325 299.5h1M327 302.5h1M328 306.5h1M329 310.5h1M361 318.5h1M360 322.5h1M360 326.5h1M359 330.5h1M357 334.5h1M356 338.5h1M354 341.5h1M353 345.5h1M351 348.5h1M348 351.5h1M346 355.5h1M343 358.5h1M340 360.5h1M337 363.5h1M334 365.5h1M330 368.5h1M327 370.5h1M323 371.5h1M320 373.5h1M316 374.5h1M312 375.5h1M308 376.5h1M304 376.5h1M300 377.5h1M296 377.5h1M292 376.5h1M288 376.5h1M284 375.5h1M280 374.5h1M276 373.5h1M273 371.5h1M269 370.5h1M266 368.5h1M262 365.5h1M259 363.5h1M256 360.5h1M253 358.5h1M250 355.5h1M248 351.5h1M245 348.5h1M243 345.5h1M242 341.5h1M240 338.5h1M239 334.5h1M237 330.5h1M236 326.5h1M236 322.5h1M235 318.5h1M235 310.5h1M236 306.5h1M236 302.5h1M237 298.5h1M239 294.5h1M240 290.5h1M242 287.5h1M243 283.5h1M245 280.5h1M248 277.5h1M250 273.5h1M253 270.5h1M256 268.5h1M259 265.5h1M262 263.5h1M266 260.5h1M269 258.5h1M273 257.5h1M276 255.5h1M280 254.5h1M284 253.5h1M288 252.5h1M292 252.5h1M296 251.5h1M300 251.5h1M304 252.5h1M308 252.5h1M312 253.5h1M316 254.5h1M320 255.5h1M323 257.5h1M327 258.5h1M330 260.5h1M334 263.5h1M337 265.5h1M340 268.5h1M343 270.5h1M346 273.5h1M348 277.5h1M351 280.5h1M353 283.5h1M354 287.5h1M356 290.5h1M357 294.5h1M359 298.5h1M360 302.5h1M360 306.5h1M361 310.5h1M392 318.5h1M392 322.5h1M391 326.5h1M391 330.5h1M390 334.5h1M389 338.5h1M388 342.5h1M387 345.5h1M385 349.5h1M384 353.5h1M382 356.5h1M380 360.5h1M378 363.5h1M376 367.5h1M374 370.5h1M371 373.5h1M369 376.5h1M366 379.5h1M363 382.5h1M360 385.5h1M357 387.5h1M354 390.5h1M351 392.5h1M347 394.5h1M344 396.5h1M340 398.5h1M337 400.5h1M333 401.5h1M329 403.5h1M326 404.5h1M322 405.5h1M318 406.5h1M314 407.5h1M310 407.5h1M306 408.5h1M302 408.5h1M294 408.5h1M290 408.5h1M286 407.5h1M282 407.5h1M278 406.5h1M274 405.5h1M270 404.5h1M267 403.5h1M263 401.5h1M259 400.5h1M256 398.5h1M252 396.5h1M249 394.5h1M245 392.5h1M242 390.5h1M239 387.5h1M236 385.5h1M233 382.5h1M230 379.5h1M227 376.5h1M225 373.5h1M222 370.5h1M220 367.5h1M218 363.5h1M216 360.5h1M214 356.5h1M212 353.5h1M211 349.5h1M209 345.5h1M208 342.5h1M207 338.5h1M206 334.5h1M205 330.5h1M205 326.5h1M204 322.5h1M204 318.5h1M204 310.5h1M204 306.5h1M205 302.5h1M205 298.5h1M206 294.5h1M207 290.5h1M208 286.5h1M209 283.5h1M211 279.5h1M212 275.5h1M214 272.5h1M216 268.5h1M218 265.5h1M220 261.5h1M222 258.5h1M225 255.5h1M227 252.5h1M230 249.5h1M233 246.5h1M236 243.5h1M239 241.5h1M242 238.5h1M245 236.5h1M249 234.5h1M252 232.5h1M256 230.5h1M259 228.5h1M263 227.5h1M267 225.5h1M270 224.5h1M274 223.5h1M278 222.5h1M282 221.5h1M286 221.5h1M290 220.5h1M294 220.5h1M302 220.5h1M306 220.5h1M310 221.5h1M314 221.5h1M318 222.5h1M322 223.5h1M326 224.5h1M329 225.5h1M333 227.5h1M337 228.5h1M340 230.5h1M344 232.5h1M347 234.5h1M351 236.5h1M354 238.5h1M357 241.5h1M360 243.5h1M363 246.5h1M366 249.5h1M369 252.5h1M371 255.5h1M374 258.5h1M376 261.5h1M378 265.5h1M380 268.5h1M382 272.5h1M384 275.5h1M385 279.5h1M387 283.5h1M388 286.5h1M389 290.5h1M390 294.5h1M391 298.5h1M391 302.5h1M392 306.5h1M392 310.5h1M423 318.5h1M423 322.5h1M423 326.5h1M422 330.5h1M422 334.5h1M421 338.5h1M420 342.5h1M419 346.5h1M418 349.5h1M417 353.5h1M416 357.5h1M414 361.5h1M413 364.5h1M411 368.5h1M409 372.5h1M407 375.5h1M405 379.5h1M403 382.5h1M401 385.5h1M399 389.5h1M396 392.5h1M394 395.5h1M391 398.5h1M388 401.5h1M386 404.5h1M383 406.5h1M380 409.5h1M377 412.5h1M373 414.5h1M370 416.5h1M367 419.5h1M364 421.5h1M360 423.5h1M357 425.5h1M353 427.5h1M349 428.5h1M346 430.5h1M342 431.5h1M338 433.5h1M334 434.5h1M331 435.5h1M327 436.5h1M323 437.5h1M319 438.5h1M315 438.5h1M311 439.5h1M307 439.5h1M303 439.5h1M299 439.5h1M295 439.5h1M291 439.5h1M287 439.5h1M283 438.5h1M279 438.5h1M275 437.5h1M271 436.5h1M267 436.5h1M263 434.5h1M260 433.5h1M256 432.5h1M252 431.5h1M248 429.5h1M245 427.5h1M241 426.5h1M238 424.5h1M234 422.5h1M231 420.5h1M227 418.5h1M224 415.5h1M221 413.5h1M218 410.5h1M215 408.5h1M212 405.5h1M209 402.5h1M206 399.5h1M204 396.5h1M201 393.5h1M199 390.5h1M196 387.5h1M194 384.5h1M192 380.5h1M190 377.5h1M188 373.5h1M186 370.5h1M184 366.5h1M183 363.5h1M181 359.5h1M180 355.5h1M178 351.5h1M177 348.5h1M176 344.5h1M175 340.5h1M175 336.5h1M174 332.5h1M173 328.5h1M173 324.5h1M173 320.5h1M173 316.5h1M173 312.5h1M173 308.5h1M173 304.5h1M173 300.5h1M174 296.5h1M175 292.5h1M175 288.5h1M176 284.5h1M177 280.5h1M178 277.5h1M180 273.5h1M181 269.5h1M183 265.5h1M184 262.5h1M186 258.5h1M188 255.5h1M190 251.5h1M192 248.5h1M194 244.5h1M196 241.5h1M199 238.5h1M201 235.5h1M204 232.5h1M206 229.5h1M209 226.5h1M212 223.5h1M215 220.5h1M218 218.5h1M221 215.5h1M224 213.5h1M227 210.5h1M231 208.5h1M234 206.5h1M238 204.5h1M241 202.5h1M245 201.5h1M248 199.5h1M252 197.5h1M256 196.5h1M260 195.5h1M263 194.5h1M267 192.5h1M271 192.5h1M275 191.5h1M279 190.5h1M283 190.5h1M287 189.5h1M291 189.5h1M295 189.5h1M299 189.5h1M303 189.5h1M307 189.5h1M311 189.5h1M315 190.5h1M319 190.5h1M323 191.5h1M327 192.5h1M331 193.5h1M334 194.5h1M338 195.5h1M342 197.5h1M346 198.5h1M349 200.5h1M353 201.5h1M357 203.5h1M360 205.5h1M364 207.5h1M367 209.5h1M370 212.5h1M373 214.5h1M377 216.5h1M380 219.5h1M383 222.5h1M386 224.5h1M388 227.5h1M391 230.5h1M394 233.5h1M396 236.5h1M399 239.5h1M401 243.5h1M403 246.5h1M405 249.5h1M407 253.5h1M409 256.5h1M411 260.5h1M413 264.5h1M414 267.5h1M416 271.5h1M417 275.5h1M418 279.5h1M419 282.5h1M420 286.5h1M421 290.5h1M422 294.5h1M422 298.5h1M423 302.5h1M423 306.5h1M423 310.5h1M455 318.5h1M454 322.5h1M454 326.5h1M454 330.5h1M453 334.5h1M453 338.5h1M452 342.5h1M451 346.5h1M451 350.5h1M450 354.5h1M449 357.5h1M447 361.5h1M446 365.5h1M445 369.5h1M443 373.5h1M442 376.5h1M440 380.5h1M438 384.5h1M437 387.5h1M435 391.5h1M433 394.5h1M431 397.5h1M428 401.5h1M426 404.5h1M424 407.5h1M421 411.5h1M419 414.5h1M416 417.5h1M414 420.5h1M411 423.5h1M408 425.5h1M405 428.5h1M402 431.5h1M399 434.5h1M396 436.5h1M393 439.5h1M390 441.5h1M386 443.5h1M383 445.5h1M380 448.5h1M376 450.5h1M373 452.5h1M369 453.5h1M366 455.5h1M362 457.5h1M358 459.5h1M355 460.5h1M351 461.5h1M347 463.5h1M343 464.5h1M340 465.5h1M336 466.5h1M332 467.5h1M328 468.5h1M324 468.5h1M320 469.5h1M316 470.5h1M312 470.5h1M308 470.5h1M304 471.5h1M300 471.5h1M296 471.5h1M292 471.5h1M288 470.5h1M284 470.5h1M280 470.5h1M276 469.5h1M272 468.5h1M268 468.5h1M264 467.5h1M260 466.5h1M256 465.5h1M253 464.5h1M249 463.5h1M245 461.5h1M241 460.5h1M238 459.5h1M234 457.5h1M230 455.5h1M227 453.5h1M223 452.5h1M220 450.5h1M216 448.5h1M213 445.5h1M210 443.5h1M206 441.5h1M203 439.5h1M200 436.5h1M197 434.5h1M194 431.5h1M191 428.5h1M188 425.5h1M185 423.5h1M182 420.5h1M180 417.5h1M177 414.5h1M175 411.5h1M172 407.5h1M170 404.5h1M168 401.5h1M165 397.5h1M163 394.5h1M161 391.5h1M159 387.5h1M158 384.5h1M156 380.5h1M154 376.5h1M153 373.5h1M151 369.5h1M150 365.5h1M149 361.5h1M147 357.5h1M146 354.5h1M145 350.5h1M145 346.5h1M144 342.5h1M143 338.5h1M143 334.5h1M142 330.5h1M142 326.5h1M142 322.5h1M141 318.5h1M141 310.5h1M142 306.5h1M142 302.5h1M142 298.5h1M143 294.5h1M143 290.5h1M144 286.5h1M145 282.5h1M145 278.5h1M146 274.5h1M147 271.5h1M149 267.5h1M150 263.5h1M151 259.5h1M153 255.5h1M154 252.5h1M156 248.5h1M158 244.5h1M159 241.5h1M161 237.5h1M163 234.5h1M165 231.5h1M168 227.5h1M170 224.5h1M172 221.5h1M175 217.5h1M177 214.5h1M180 211.5h1M182 208.5h1M185 205.5h1M188 203.5h1M191 200.5h1M194 197.5h1M197 194.5h1M200 192.5h1M203 189.5h1M206 187.5h1M210 185.5h1M213 183.5h1M216 180.5h1M220 178.5h1M223 176.5h1M227 175.5h1M230 173.5h1M234 171.5h1M238 169.5h1M241 168.5h1M245 167.5h1M249 165.5h1M253 164.5h1M256 163.5h1M260 162.5h1M264 161.5h1M268 160.5h1M272 160.5h1M276 159.5h1M280 158.5h1M284 158.5h1M288 158.5h1M292 157.5h1M296 157.5h1M300 157.5h1M304 157.5h1M308 158.5h1M312 158.5h1M316 158.5h1M320 159.5h1M324 160.5h1M328 160.5h1M332 161.5h1M336 162.5h1M340 163.5h1M343 164.5h1M347 165.5h1M351 167.5h1M355 168.5h1M358 169.5h1M362 171.5h1M366 173.5h1M369 175.5h1M373 176.5h1M376 178.5h1M380 180.5h1M383 183.5h1M386 185.5h1M390 187.5h1M393 189.5h1M396 192.5h1M399 194.5h1M402 197.5h1M405 200.5h1M408 203.5h1M411 205.5h1M414 208.5h1M416 211.5h1M419 214.5h1M421 217.5h1M424 221.5h1M426 224.5h1M428 227.5h1M431 231.5h1M433 234.5h1M435 237.5h1M437 241.5h1M438 244.5h1M440 248.5h1M442 252.5h1M443 255.5h1M445 259.5h1M446 263.5h1M447 267.5h1M449 271.5h1M450 274.5h1M451 278.5h1M451 282.5h1M452 286.5h1M453 290.5h1M453 294.5h1M454 298.5h1M454 302.5h1M454 306.5h1M455 310.5h1M486 318.5h1M486 322.5h1M486 326.5h1M485 330.5h1M485 334.5h1M484 338.5h1M484 342.5h1M483 346.5h1M483 350.5h1M482 354.5h1M481 358.5h1M480 362.5h1M479 365.5h1M478 369.5h1M476 373.5h1M475 377.5h1M474 381.5h1M472 384.5h1M471 388.5h1M469 392.5h1M467 395.5h1M466 399.5h1M464 402.5h1M462 406.5h1M460 409.5h1M458 413.5h1M456 416.5h1M454 420.5h1M451 423.5h1M449 426.5h1M446 429.5h1M444 432.5h1M441 436.5h1M439 439.5h1M436 442.5h1M433 444.5h1M431 447.5h1M428 450.5h1M425 453.5h1M422 455.5h1M419 458.5h1M416 461.5h1M413 463.5h1M409 465.5h1M406 468.5h1M403 470.5h1M399 472.5h1M396 474.5h1M393 476.5h1M389 478.5h1M386 480.5h1M382 482.5h1M378 484.5h1M375 486.5h1M371 487.5h1M367 489.5h1M364 490.5h1M360 492.5h1M356 493.5h1M352 494.5h1M348 495.5h1M345 496.5h1M341 497.5h1M337 498.5h1M333 499.5h1M329 499.5h1M325 500.5h1M321 501.5h1M317 501.5h1M313 501.5h1M309 502.5h1M305 502.5h1M301 502.5h1M297 502.5h1M293 502.5h1M289 502.5h1M285 502.5h1M281 501.5h1M277 501.5h1M273 500.5h1M269 500.5h1M265 499.5h1M261 498.5h1M257 498.5h1M253 497.5h1M250 496.5h1M246 495.5h1M242 493.5h1M238 492.5h1M234 491.5h1M230 489.5h1M227 488.5h1M223 486.5h1M219 485.5h1M216 483.5h1M212 481.5h1M209 479.5h1M205 477.5h1M202 475.5h1M198 473.5h1M195 471.5h1M192 469.5h1M188 467.5h1M185 464.5h1M182 462.5h1M179 459.5h1M176 457.5h1M173 454.5h1M170 451.5h1M167 449.5h1M164 446.5h1M161 443.5h1M159 440.5h1M156 437.5h1M153 434.5h1M151 431.5h1M148 428.5h1M146 424.5h1M144 421.5h1M141 418.5h1M139 415.5h1M137 411.5h1M135 408.5h1M133 404.5h1M131 401.5h1M129 397.5h1M128 393.5h1M126 390.5h1M124 386.5h1M123 382.5h1M122 379.5h1M120 375.5h1M119 371.5h1M118 367.5h1M117 363.5h1M116 360.5h1M115 356.5h1M114 352.5h1M113 348.5h1M112 344.5h1M112 340.5h1M111 336.5h1M111 332.5h1M111 328.5h1M110 324.5h1M110 320.5h1M110 316.5h1M110 312.5h1M110 308.5h1M110 304.5h1M111 300.5h1M111 296.5h1M111 292.5h1M112 288.5h1M112 284.5h1M113 280.5h1M114 276.5h1M115 272.5h1M116 268.5h1M117 265.5h1M118 261.5h1M119 257.5h1M120 253.5h1M122 249.5h1M123 246.5h1M124 242.5h1M126 238.5h1M128 235.5h1M129 231.5h1M131 227.5h1M133 224.5h1M135 220.5h1M137 217.5h1M139 213.5h1M141 210.5h1M144 207.5h1M146 204.5h1M148 200.5h1M151 197.5h1M153 194.5h1M156 191.5h1M159 188.5h1M161 185.5h1M164 182.5h1M167 179.5h1M170 177.5h1M173 174.5h1M176 171.5h1M179 169.5h1M182 166.5h1M185 164.5h1M188 161.5h1M192 159.5h1M195 157.5h1M198 155.5h1M202 153.5h1M205 151.5h1M209 149.5h1M212 147.5h1M216 145.5h1M219 143.5h1M223 142.5h1M227 140.5h1M230 139.5h1M234 137.5h1M238 136.5h1M242 135.5h1M246 133.5h1M250 132.5h1M253 131.5h1M257 130.5h1M261 130.5h1M265 129.5h1M269 128.5h1M273 128.5h1M277 127.5h1M281 127.5h1M285 126.5h1M289 126.5h1M293 126.5h1M297 126.5h1M301 126.5h1M305 126.5h1M309 126.5h1M313 127.5h1M317 127.5h1M321 127.5h1M325 128.5h1M329 129.5h1M333 129.5h1M337 130.5h1M341 131.5h1M345 132.5h1M348 133.5h1M352 134.5h1M356 135.5h1M360 136.5h1M364 138.5h1M367 139.5h1M371 141.5h1M375 142.5h1M378 144.5h1M382 146.5h1M386 148.5h1M389 150.5h1M393 152.5h1M396 154.5h1M399 156.5h1M403 158.5h1M406 160.5h1M409 163.5h1M413 165.5h1M416 167.5h1M419 170.5h1M422 173.5h1M425 175.5h1M428 178.5h1M431 181.5h1M433 184.5h1M436 186.5h1M439 189.5h1M441 192.5h1M444 196.5h1M446 199.5h1M449 202.5h1M451 205.5h1M454 208.5h1M456 212.5h1M458 215.5h1M460 219.5h1M462 222.5h1M464 226.5h1M466 229.5h1M467 233.5h1M469 236.5h1M471 240.5h1M472 244.5h1M474 247.5h1M475 251.5h1M476 255.5h1M478 259.5h1M479 263.5h1M480 266.5h1M481 270.5h1M482 274.5h1M483 278.5h1M483 282.5h1M484 286.5h1M484 290.5h1M485 294.5h1M485 298.5h1M486 302.5h1M486 306.5h1M486 310.5h1M517 318.5h1M517 322.5h1M517 326.5h1M517 330.5h1M516 334.5h1M516 338.5h1M516 342.5h1M515 346.5h1M514 350.5h1M514 354.5h1M513 358.5h1M512 362.5h1M511 366.5h1M510 369.5h1M509 373.5h1M508 377.5h1M507 381.5h1M506 385.5h1M504 389.5h1M503 392.5h1M501 396.5h1M500 400.5h1M498 403.5h1M497 407.5h1M495 411.5h1M493 414.5h1M491 418.5h1M489 421.5h1M487 425.5h1M485 428.5h1M483 432.5h1M481 435.5h1M479 438.5h1M476 442.5h1M474 445.5h1M472 448.5h1M469 451.5h1M467 454.5h1M464 457.5h1M461 460.5h1M459 463.5h1M456 466.5h1M453 469.5h1M450 472.5h1M447 475.5h1M444 477.5h1M441 480.5h1M438 483.5h1M435 485.5h1M432 488.5h1M429 490.5h1M426 492.5h1M422 495.5h1M419 497.5h1M416 499.5h1M412 501.5h1M409 503.5h1M405 505.5h1M402 507.5h1M398 509.5h1M395 511.5h1M391 513.5h1M387 514.5h1M384 516.5h1M380 517.5h1M376 519.5h1M373 520.5h1M369 522.5h1M365 523.5h1M361 524.5h1M357 525.5h1M353 526.5h1M350 527.5h1M346 528.5h1M342 529.5h1M338 530.5h1M334 530.5h1M330 531.5h1M326 532.5h1M322 532.5h1M318 532.5h1M314 533.5h1M310 533.5h1M306 533.5h1M302 533.5h1M294 533.5h1M290 533.5h1M286 533.5h1M282 533.5h1M278 532.5h1M274 532.5h1M270 532.5h1M266 531.5h1M262 530.5h1M258 530.5h1M254 529.5h1M250 528.5h1M246 527.5h1M243 526.5h1M239 525.5h1M235 524.5h1M231 523.5h1M227 522.5h1M223 520.5h1M220 519.5h1M216 517.5h1M212 516.5h1M209 514.5h1M205 513.5h1M201 511.5h1M198 509.5h1M194 507.5h1M191 505.5h1M187 503.5h1M184 501.5h1M180 499.5h1M177 497.5h1M174 495.5h1M170 492.5h1M167 490.5h1M164 488.5h1M161 485.5h1M158 483.5h1M155 480.5h1M152 477.5h1M149 475.5h1M146 472.5h1M143 469.5h1M140 466.5h1M137 463.5h1M135 460.5h1M132 457.5h1M129 454.5h1M127 451.5h1M124 448.5h1M122 445.5h1M120 442.5h1M117 438.5h1M115 435.5h1M113 432.5h1M111 428.5h1M109 425.5h1M107 421.5h1M105 418.5h1M103 414.5h1M101 411.5h1M99 407.5h1M98 403.5h1M96 400.5h1M95 396.5h1M93 392.5h1M92 389.5h1M90 385.5h1M89 381.5h1M88 377.5h1M87 373.5h1M86 369.5h1M85 366.5h1M84 362.5h1M83 358.5h1M82 354.5h1M82 350.5h1M81 346.5h1M80 342.5h1M80 338.5h1M80 334.5h1M79 330.5h1M79 326.5h1M79 322.5h1M79 318.5h1M79 310.5h1M79 306.5h1M79 302.5h1M79 298.5h1M80 294.5h1M80 290.5h1M80 286.5h1M81 282.5h1M82 278.5h1M82 274.5h1M83 270.5h1M84 266.5h1M85 262.5h1M86 259.5h1M87 255.5h1M88 251.5h1M89 247.5h1M90 243.5h1M92 239.5h1M93 236.5h1M95 232.5h1M96 228.5h1M98 225.5h1M99 221.5h1M101 217.5h1M103 214.5h1M105 210.5h1M107 207.5h1M109 203.5h1M111 200.5h1M113 196.5h1M115 193.5h1M117 190.5h1M120 186.5h1M122 183.5h1M124 180.5h1M127 177.5h1M129 174.5h1M132 171.5h1M135 168.5h1M137 165.5h1M140 162.5h1M143 159.5h1M146 156.5h1M149 153.5h1M152 151.5h1M155 148.5h1M158 145.5h1M161 143.5h1M164 140.5h1M167 138.5h1M170 136.5h1M174 133.5h1M177 131.5h1M180 129.5h1M184 127.5h1M187 125.5h1M191 123.5h1M194 121.5h1M198 119.5h1M201 117.5h1M205 115.5h1M209 114.5h1M212 112.5h1M216 111.5h1M220 109.5h1M223 108.5h1M227 106.5h1M231 105.5h1M235 104.5h1M239 103.5h1M243 102.5h1M246 101.5h1M250 100.5h1M254 99.5h1M258 98.5h1M262 98.5h1M266 97.5h1M270 96.5h1M274 96.5h1M278 96.5h1M282 95.5h1M286 95.5h1M290 95.5h1M294 95.5h1M302 95.5h1M306 95.5h1M310 95.5h1M314 95.5h1M318 96.5h1M322 96.5h1M326 96.5h1M330 97.5h1M334 98.5h1M338 98.5h1M342 99.5h1M346 100.5h1M350 101.5h1M353 102.5h1M357 103.5h1M361 104.5h1M365 105.5h1M369 106.5h1M373 108.5h1M376 109.5h1M380 111.5h1M384 112.5h1M387 114.5h1M391 115.5h1M395 117.5h1M398 119.5h1M402 121.5h1M405 123.5h1M409 125.5h1M412 127.5h1M416 129.5h1M419 131.5h1M422 133.5h1M426 136.5h1M429 138.5h1M432 140.5h1M435 143.5h1M438 145.5h1M441 148.5h1M444 151.5h1M447 153.5h1M450 156.5h1M453 159.5h1M456 162.5h1M459 165.5h1M461 168.5h1M464 171.5h1M467 174.5h1M469 177.5h1M472 180.5h1M474 183.5h1M476 186.5h1M479 190.5h1M481 193.5h1M483 196.5h1M485 200.5h1M487 203.5h1M489 207.5h1M491 210.5h1M493 214.5h1M495 217.5h1M497 221.5h1M498 225.5h1M500 228.5h1M501 232.5h1M503 236.5h1M504 239.5h1M506 243.5h1M507 247.5h1M508 251.5h1M509 255.5h1M510 259.5h1M511 262.5h1M512 266.5h1M513 270.5h1M514 274.5h1M514 278.5h1M515 282.5h1M516 286.5h1M516 290.5h1M516 294.5h1M517 298.5h1M517 302.5h1M517 306.5h1M517 310.5h1" stroke="#6e6e6e" stroke-width="1" fill="none" shape-rendering="crispEdges"/>
<polygon points="330.5,318.4 307.6,303.4 306.5,309.4 299.4,308.2 297.5,320.2 304.6,321.8 303.5,327.4" fill="none" stroke="#e4e4e4" stroke-width="1.1" stroke-linejoin="miter"/>
<text x="281" y="57" class="nb">North</text>
<text x="15.5" y="318" class="nb">West</text>
<text x="552.5" y="318" class="sb">East</text>
<text x="281" y="578" class="sb">South</text>

<!-- right panel -->
<text x="594" y="71" class="m">Num of Sources          2008</text>
<text x="594" y="85" class="m">Min Freq, kHz           5000</text>
<text x="594" y="99" class="m">Max Freq, kHz           5250</text>
<text x="594" y="113" class="m">Min Range, km            250</text>
<text x="594" y="127" class="m">Max Range, km            532</text>
<text x="594" y="141" class="m">Max Amp, dB               58</text>
<text x="594" y="155" class="m">Max SNR Amp, dB           40</text>
<text x="594" y="169" class="m">Min SNR Amp, dB           12</text>
<text x="594" y="183" class="m">Avg SNR Amp, dB           23</text>
<text x="594" y="197" class="m">Max RMS Err, deg        12.0</text>
<text x="594" y="211" class="m">Min RMS Err, deg         0.0</text>
<text x="594" y="225" class="m">Avg RMS Err, deg         4.0</text>
<text x="594" y="239" class="m">Doppler Res, Hz       0.0651</text>
<text x="594" y="253" class="m">CIT, sec               15.36</text>
<text x="594" y="267" class="m">Num of CITs                8</text>
<text x="594" y="281" class="m">Polarization          O-mode</text>
<text x="594" y="295" class="m">Center of Sources, deg:     </text>
<text x="594" y="309" class="m">          Zenith         3.1</text>
<text x="594" y="323" class="m">          Azimuth         35</text>
<path d="M725.5 319.5 C725 317.5 722.5 317.3 721.5 318.8 M721 317.5 L721.3 319.4 L723 319.2" stroke="#000" stroke-width="0.9" fill="none"/>

<!-- colour bar -->
<rect x="593" y="341" width="15" height="242" fill="url(#jet)"/>
<path d="M608.5 341V583" stroke="#000" stroke-width="1" shape-rendering="crispEdges"/>
<path d="M609 581.5h3M609 578.5h6M609 575.5h3M609 572.5h3M609 569.5h3M609 566.5h3M609 563.5h6M609 560.5h3M609 557.5h3M609 555.5h3M609 552.5h3M609 549.5h6M609 546.5h3M609 543.5h3M609 540.5h3M609 537.5h3M609 534.5h6M609 531.5h3M609 528.5h3M609 525.5h3M609 523.5h3M609 520.5h6M609 517.5h3M609 514.5h3M609 511.5h3M609 508.5h3M609 505.5h6M609 502.5h3M609 499.5h3M609 496.5h3M609 493.5h3M609 490.5h6M609 488.5h3M609 485.5h3M609 482.5h3M609 479.5h3M609 476.5h6M609 473.5h3M609 470.5h3M609 467.5h3M609 464.5h3M609 461.5h6M609 458.5h3M609 455.5h3M609 453.5h3M609 450.5h3M609 447.5h6M609 444.5h3M609 441.5h3M609 438.5h3M609 435.5h3M609 432.5h6M609 429.5h3M609 426.5h3M609 423.5h3M609 420.5h3M609 418.5h6M609 415.5h3M609 412.5h3M609 409.5h3M609 406.5h3M609 403.5h6M609 400.5h3M609 397.5h3M609 394.5h3M609 391.5h3M609 388.5h6M609 386.5h3M609 383.5h3M609 380.5h3M609 377.5h3M609 374.5h6M609 371.5h3M609 368.5h3M609 365.5h3M609 362.5h3M609 359.5h6M609 356.5h3M609 353.5h3M609 351.5h3M609 348.5h3M609 345.5h6M609 342.5h3M609 341.5h6M609 582.5h6" stroke="#000" stroke-width="1" fill="none" shape-rendering="crispEdges"/>
<text x="617.3" y="345.5" class="bl" textLength="19.5" lengthAdjust="spacingAndGlyphs">4.2</text>
<text x="617.3" y="378.5" class="bl" textLength="19.5" lengthAdjust="spacingAndGlyphs">3.0</text>
<text x="617.3" y="407.5" class="bl" textLength="19.5" lengthAdjust="spacingAndGlyphs">2.0</text>
<text x="617.3" y="436.5" class="bl" textLength="19.5" lengthAdjust="spacingAndGlyphs">1.0</text>
<text x="617.3" y="465.5" class="bl" textLength="7.7" lengthAdjust="spacingAndGlyphs">0</text>
<text x="617.3" y="494.5" class="bl" textLength="24.1" lengthAdjust="spacingAndGlyphs">-1.0</text>
<text x="617.3" y="524.5" class="bl" textLength="24.1" lengthAdjust="spacingAndGlyphs">-2.0</text>
<text x="617.3" y="553.5" class="bl" textLength="24.1" lengthAdjust="spacingAndGlyphs">-3.0</text>
<text x="617.3" y="586.5" class="bl" textLength="24.1" lengthAdjust="spacingAndGlyphs">-4.2</text>
<text transform="translate(657.3,492) rotate(-90)" textLength="52.7" lengthAdjust="spacingAndGlyphs" style="font-family:'Liberation Sans',sans-serif;font-size:10.2px;font-weight:bold;stroke:#000;stroke-width:0.25px">Doppler, Hz</text>
<path d="M669 402.5h8M673.5 398.5v8" stroke="#0000e6" stroke-width="1" fill="none" shape-rendering="crispEdges"/>
<text x="682.3" y="406" textLength="45.5" lengthAdjust="spacingAndGlyphs" style="font-family:'Liberation Sans',sans-serif;font-size:10.2px;font-weight:bold;fill:#0000e6;stroke:#0000e6;stroke-width:0.3px">Positive</text>
<circle cx="673" cy="522.8" r="2.5" fill="none" stroke="#f00000" stroke-width="1.1"/>
<text x="682.3" y="526" textLength="51.3" lengthAdjust="spacingAndGlyphs" style="font-family:'Liberation Sans',sans-serif;font-size:10.2px;font-weight:bold;fill:#f00000;stroke:#f00000;stroke-width:0.3px">Negative</text>
<text x="654.7" y="593" class="s" textLength="137.3" lengthAdjust="spacingAndGlyphs" style="font-size:10px;stroke:#000;stroke-width:0.15px">ShowSkymap v 1.0   SD v 5.1</text>

<!-- bottom texts -->
<text x="11.5" y="572" class="mi">V</text><text x="19.3" y="576" class="m" style="font-size:10px">h</text><text x="32.5" y="572" class="mi">= 103 ± 21</text><text x="109.5" y="572" class="m">m/s</text>
<text x="11.5" y="592" class="mi">Geographic coordinates</text>
<text x="473.5" y="572" class="mi">V</text><text x="481.5" y="576" class="m" style="font-size:10px;stroke:#000;stroke-width:0.25px">z</text><text x="494.5" y="572" class="mi">= -2 ± 1</text><text x="557.5" y="572" class="m">m/s</text>
<text x="419" y="592" class="mi">Zenith: max 40</text><text x="534.5" y="592" class="mi">step 5</text>
<circle cx="519.5" cy="584.8" r="1.5" fill="none" stroke="#000" stroke-width="0.9"/><circle cx="578.8" cy="584.8" r="1.5" fill="none" stroke="#000" stroke-width="0.9"/>
</svg>
</body></html>
